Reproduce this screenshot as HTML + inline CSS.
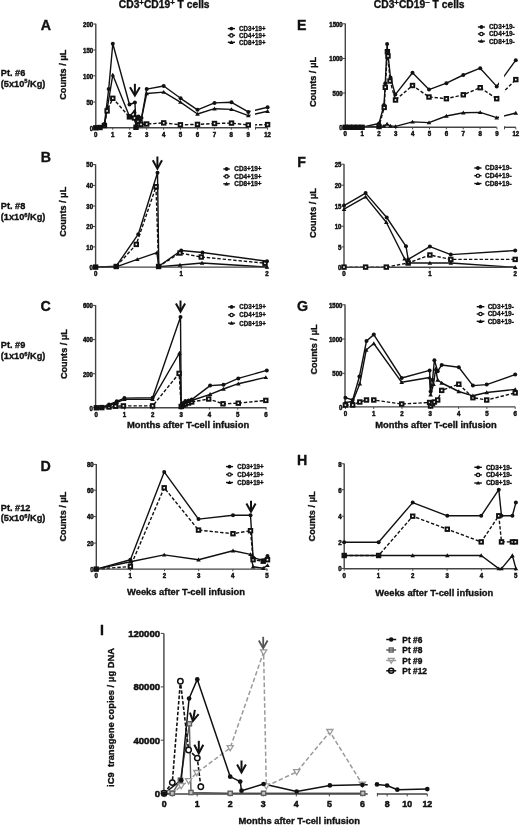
<!DOCTYPE html>
<html><head><meta charset="utf-8"><style>
html,body{margin:0;padding:0;background:#fff;overflow:hidden;width:520px;height:825px;}
svg{display:block;font-family:"Liberation Sans", sans-serif;filter:grayscale(1) blur(0.35px);}
text{stroke:#111;stroke-width:0.35px;}
.tk{stroke-width:0.5px;}
</style></head><body>
<svg width="520" height="825" viewBox="0 0 520 825" font-family='"Liberation Sans", sans-serif'>
<rect width="520" height="825" fill="#fff"/>
<text x="118.8" y="8.0" font-size="10" font-weight="bold" fill="#111" textLength="90.8" lengthAdjust="spacingAndGlyphs">CD3<tspan font-size="7.6" dy="-2.9">+</tspan><tspan dy="2.9">CD19</tspan><tspan font-size="7.6" dy="-2.9">+</tspan><tspan dy="2.9"> T cells</tspan></text>
<text x="373.8" y="8.0" font-size="10" font-weight="bold" fill="#111" textLength="90.8" lengthAdjust="spacingAndGlyphs">CD3<tspan font-size="7.6" dy="-2.9">+</tspan><tspan dy="2.9">CD19</tspan><tspan font-size="7.6" dy="-2.9">−</tspan><tspan dy="2.9"> T cells</tspan></text>
<text x="40.8" y="30.1" font-size="14.2" font-weight="bold" text-anchor="start" fill="#111" >A</text>
<text x="40.8" y="162.0" font-size="14.2" font-weight="bold" text-anchor="start" fill="#111" >B</text>
<text x="40.4" y="311.0" font-size="14.2" font-weight="bold" text-anchor="start" fill="#111" >C</text>
<text x="40.4" y="470.7" font-size="14.2" font-weight="bold" text-anchor="start" fill="#111" >D</text>
<text x="297.0" y="29.7" font-size="14.2" font-weight="bold" text-anchor="start" fill="#111" >E</text>
<text x="297.2" y="167.0" font-size="14.2" font-weight="bold" text-anchor="start" fill="#111" >F</text>
<text x="297.0" y="311.3" font-size="14.2" font-weight="bold" text-anchor="start" fill="#111" >G</text>
<text x="297.0" y="465.2" font-size="14.2" font-weight="bold" text-anchor="start" fill="#111" >H</text>
<text x="100.1" y="635.1" font-size="14.2" font-weight="bold" text-anchor="start" fill="#111" >I</text>
<text x="0.8" y="75.9" font-size="9.2" font-weight="bold" text-anchor="start" fill="#111" >Pt. #6</text>
<text x="0.8" y="86.7" font-size="9.2" font-weight="bold" fill="#111">(5x10<tspan font-size="5.8" dy="-3.3">5</tspan><tspan dy="3.3">/Kg)</tspan></text>
<text x="0.8" y="209.2" font-size="9.2" font-weight="bold" text-anchor="start" fill="#111" >Pt. #8</text>
<text x="0.8" y="220.0" font-size="9.2" font-weight="bold" fill="#111">(1x10<tspan font-size="5.8" dy="-3.3">6</tspan><tspan dy="3.3">/Kg)</tspan></text>
<text x="0.8" y="348.3" font-size="9.2" font-weight="bold" text-anchor="start" fill="#111" >Pt. #9</text>
<text x="0.8" y="359.1" font-size="9.2" font-weight="bold" fill="#111">(1x10<tspan font-size="5.8" dy="-3.3">6</tspan><tspan dy="3.3">/Kg)</tspan></text>
<text x="0.8" y="510.6" font-size="9.2" font-weight="bold" text-anchor="start" fill="#111" >Pt. #12</text>
<text x="0.8" y="521.4" font-size="9.2" font-weight="bold" fill="#111">(5x10<tspan font-size="5.8" dy="-3.3">6</tspan><tspan dy="3.3">/Kg)</tspan></text>
<text x="0" y="0" font-size="9.8" font-weight="bold" text-anchor="middle" fill="#111" textLength="50" lengthAdjust="spacingAndGlyphs" transform="translate(65.8 74.7) rotate(-90)">Counts / μL</text>
<text x="0" y="0" font-size="9.8" font-weight="bold" text-anchor="middle" fill="#111" textLength="50" lengthAdjust="spacingAndGlyphs" transform="translate(65.9 211.8) rotate(-90)">Counts / μL</text>
<text x="0" y="0" font-size="9.8" font-weight="bold" text-anchor="middle" fill="#111" textLength="50" lengthAdjust="spacingAndGlyphs" transform="translate(66.6 354.1) rotate(-90)">Counts / μL</text>
<text x="0" y="0" font-size="9.8" font-weight="bold" text-anchor="middle" fill="#111" textLength="50" lengthAdjust="spacingAndGlyphs" transform="translate(65.8 516.6) rotate(-90)">Counts / μL</text>
<text x="0" y="0" font-size="9.8" font-weight="bold" text-anchor="middle" fill="#111" textLength="50" lengthAdjust="spacingAndGlyphs" transform="translate(316.0 82.0) rotate(-90)">Counts / μL</text>
<text x="0" y="0" font-size="9.8" font-weight="bold" text-anchor="middle" fill="#111" textLength="50" lengthAdjust="spacingAndGlyphs" transform="translate(316.3 213.1) rotate(-90)">Counts / μL</text>
<text x="0" y="0" font-size="9.8" font-weight="bold" text-anchor="middle" fill="#111" textLength="50" lengthAdjust="spacingAndGlyphs" transform="translate(316.5 349.5) rotate(-90)">Counts / μL</text>
<text x="0" y="0" font-size="9.8" font-weight="bold" text-anchor="middle" fill="#111" textLength="50" lengthAdjust="spacingAndGlyphs" transform="translate(315.2 516.4) rotate(-90)">Counts / μL</text>
<text x="127.0" y="428.4" font-size="9.4" font-weight="bold" text-anchor="start" fill="#111" textLength="122.2" lengthAdjust="spacingAndGlyphs" >Months after T-cell infusion</text>
<text x="375.3" y="428.4" font-size="9.4" font-weight="bold" text-anchor="start" fill="#111" textLength="121.5" lengthAdjust="spacingAndGlyphs" >Months after T-cell infusion</text>
<text x="127.0" y="595.3" font-size="9.4" font-weight="bold" text-anchor="start" fill="#111" textLength="118" lengthAdjust="spacingAndGlyphs" >Weeks after T-cell infusion</text>
<text x="375.3" y="595.7" font-size="9.4" font-weight="bold" text-anchor="start" fill="#111" textLength="118" lengthAdjust="spacingAndGlyphs" >Weeks after T-cell infusion</text>
<text x="238.5" y="823.9" font-size="9.4" font-weight="bold" text-anchor="start" fill="#111" textLength="121.5" lengthAdjust="spacingAndGlyphs" >Months after T-cell infusion</text>
<line x1="95.8" y1="23.7" x2="95.8" y2="128.2" stroke="#444" stroke-width="1.4"/>
<line x1="93.2" y1="24.0" x2="95.8" y2="24.0" stroke="#444" stroke-width="1.0"/>
<text x="93.2" y="26.8" font-size="6.8" font-weight="bold" text-anchor="end" fill="#111" textLength="10.1" lengthAdjust="spacingAndGlyphs" class="tk">200</text>
<line x1="93.2" y1="50.0" x2="95.8" y2="50.0" stroke="#444" stroke-width="1.0"/>
<text x="93.2" y="52.8" font-size="6.8" font-weight="bold" text-anchor="end" fill="#111" textLength="10.1" lengthAdjust="spacingAndGlyphs" class="tk">150</text>
<line x1="93.2" y1="75.8" x2="95.8" y2="75.8" stroke="#444" stroke-width="1.0"/>
<text x="93.2" y="78.6" font-size="6.8" font-weight="bold" text-anchor="end" fill="#111" textLength="10.1" lengthAdjust="spacingAndGlyphs" class="tk">100</text>
<line x1="93.2" y1="102.0" x2="95.8" y2="102.0" stroke="#444" stroke-width="1.0"/>
<text x="93.2" y="104.8" font-size="6.8" font-weight="bold" text-anchor="end" fill="#111" textLength="6.7" lengthAdjust="spacingAndGlyphs" class="tk">50</text>
<line x1="93.2" y1="127.7" x2="95.8" y2="127.7" stroke="#444" stroke-width="1.0"/>
<text x="93.2" y="130.5" font-size="6.8" font-weight="bold" text-anchor="end" fill="#111" textLength="3.4" lengthAdjust="spacingAndGlyphs" class="tk">0</text>
<polyline points="95.8,127.8 100.0,127.2 104.4,124.0 108.7,89.1 112.8,43.8 129.5,104.5 134.9,102.5 136.2,126.5 138.5,116.5 141.5,118.0 146.7,89.1 163.7,86.0 180.6,98.3 197.5,109.8 214.5,102.9 231.5,102.3 248.3,111.9 267.6,107.3" fill="none" stroke="#111" stroke-width="1.4" stroke-linejoin="round"/>
<polyline points="95.8,127.8 100.0,127.5 104.4,125.0 107.6,106.5 112.8,74.9 129.4,116.3 134.3,111.3 136.0,127.0 138.0,119.0 141.2,120.0 146.7,93.5 163.7,92.1 180.4,102.1 197.5,114.0 214.5,108.7 231.5,109.4 248.3,115.6 267.6,111.2" fill="none" stroke="#111" stroke-width="1.4" stroke-linejoin="round"/>
<polyline points="95.8,127.8 100.0,127.5 104.4,125.5 107.1,110.9 112.8,98.3 129.4,116.9 134.5,118.0 136.0,127.3 138.0,121.0 141.0,124.4 146.7,124.0 163.7,122.9 180.4,124.8 197.5,124.4 214.5,123.5 231.5,123.1 248.3,125.0 267.6,124.6" fill="none" stroke="#111" stroke-width="1.4" stroke-linejoin="round" stroke-dasharray="3.4,1.9"/>
<rect x="250.6" y="95" width="4.400000000000006" height="36" fill="#fff"/>
<line x1="95.8" y1="127.7" x2="248.3" y2="127.7" stroke="#444" stroke-width="1.4"/>
<line x1="255.1" y1="127.7" x2="267.6" y2="127.7" stroke="#444" stroke-width="1.4"/>
<line x1="255.5" y1="126.7" x2="255.5" y2="129.7" stroke="#444" stroke-width="1.0"/>
<line x1="95.8" y1="127.7" x2="95.8" y2="129.7" stroke="#444" stroke-width="1.0"/>
<text x="95.8" y="136.5" font-size="6.6" font-weight="bold" text-anchor="middle" fill="#111" textLength="3.4" lengthAdjust="spacingAndGlyphs" class="tk">0</text>
<line x1="112.74" y1="127.7" x2="112.74" y2="129.7" stroke="#444" stroke-width="1.0"/>
<text x="112.7" y="136.5" font-size="6.6" font-weight="bold" text-anchor="middle" fill="#111" textLength="3.4" lengthAdjust="spacingAndGlyphs" class="tk">1</text>
<line x1="129.68" y1="127.7" x2="129.68" y2="129.7" stroke="#444" stroke-width="1.0"/>
<text x="129.7" y="136.5" font-size="6.6" font-weight="bold" text-anchor="middle" fill="#111" textLength="3.4" lengthAdjust="spacingAndGlyphs" class="tk">2</text>
<line x1="146.62" y1="127.7" x2="146.62" y2="129.7" stroke="#444" stroke-width="1.0"/>
<text x="146.6" y="136.5" font-size="6.6" font-weight="bold" text-anchor="middle" fill="#111" textLength="3.4" lengthAdjust="spacingAndGlyphs" class="tk">3</text>
<line x1="163.56" y1="127.7" x2="163.56" y2="129.7" stroke="#444" stroke-width="1.0"/>
<text x="163.6" y="136.5" font-size="6.6" font-weight="bold" text-anchor="middle" fill="#111" textLength="3.4" lengthAdjust="spacingAndGlyphs" class="tk">4</text>
<line x1="180.5" y1="127.7" x2="180.5" y2="129.7" stroke="#444" stroke-width="1.0"/>
<text x="180.5" y="136.5" font-size="6.6" font-weight="bold" text-anchor="middle" fill="#111" textLength="3.4" lengthAdjust="spacingAndGlyphs" class="tk">5</text>
<line x1="197.44" y1="127.7" x2="197.44" y2="129.7" stroke="#444" stroke-width="1.0"/>
<text x="197.4" y="136.5" font-size="6.6" font-weight="bold" text-anchor="middle" fill="#111" textLength="3.4" lengthAdjust="spacingAndGlyphs" class="tk">6</text>
<line x1="214.38" y1="127.7" x2="214.38" y2="129.7" stroke="#444" stroke-width="1.0"/>
<text x="214.4" y="136.5" font-size="6.6" font-weight="bold" text-anchor="middle" fill="#111" textLength="3.4" lengthAdjust="spacingAndGlyphs" class="tk">7</text>
<line x1="231.32" y1="127.7" x2="231.32" y2="129.7" stroke="#444" stroke-width="1.0"/>
<text x="231.3" y="136.5" font-size="6.6" font-weight="bold" text-anchor="middle" fill="#111" textLength="3.4" lengthAdjust="spacingAndGlyphs" class="tk">8</text>
<line x1="248.26" y1="127.7" x2="248.26" y2="129.7" stroke="#444" stroke-width="1.0"/>
<text x="248.3" y="136.5" font-size="6.6" font-weight="bold" text-anchor="middle" fill="#111" textLength="3.4" lengthAdjust="spacingAndGlyphs" class="tk">9</text>
<line x1="267.6" y1="127.7" x2="267.6" y2="129.7" stroke="#444" stroke-width="1.0"/>
<text x="267.6" y="136.5" font-size="6.6" font-weight="bold" text-anchor="middle" fill="#111" textLength="6.7" lengthAdjust="spacingAndGlyphs" class="tk">12</text>
<rect x="94.05" y="126.05" width="3.50" height="3.50" fill="#fff" stroke="#111" stroke-width="1.9"/>
<rect x="98.25" y="125.75" width="3.50" height="3.50" fill="#fff" stroke="#111" stroke-width="1.9"/>
<rect x="102.65" y="123.75" width="3.50" height="3.50" fill="#fff" stroke="#111" stroke-width="1.9"/>
<rect x="105.35" y="109.15" width="3.50" height="3.50" fill="#fff" stroke="#111" stroke-width="1.9"/>
<rect x="111.05" y="96.55" width="3.50" height="3.50" fill="#fff" stroke="#111" stroke-width="1.9"/>
<rect x="127.65" y="115.15" width="3.50" height="3.50" fill="#fff" stroke="#111" stroke-width="1.9"/>
<rect x="132.75" y="116.25" width="3.50" height="3.50" fill="#fff" stroke="#111" stroke-width="1.9"/>
<rect x="134.25" y="125.55" width="3.50" height="3.50" fill="#fff" stroke="#111" stroke-width="1.9"/>
<rect x="136.25" y="119.25" width="3.50" height="3.50" fill="#fff" stroke="#111" stroke-width="1.9"/>
<rect x="139.25" y="122.65" width="3.50" height="3.50" fill="#fff" stroke="#111" stroke-width="1.9"/>
<rect x="144.95" y="122.25" width="3.50" height="3.50" fill="#fff" stroke="#111" stroke-width="1.9"/>
<rect x="161.95" y="121.15" width="3.50" height="3.50" fill="#fff" stroke="#111" stroke-width="1.9"/>
<rect x="178.65" y="123.05" width="3.50" height="3.50" fill="#fff" stroke="#111" stroke-width="1.9"/>
<rect x="195.75" y="122.65" width="3.50" height="3.50" fill="#fff" stroke="#111" stroke-width="1.9"/>
<rect x="212.75" y="121.75" width="3.50" height="3.50" fill="#fff" stroke="#111" stroke-width="1.9"/>
<rect x="229.75" y="121.35" width="3.50" height="3.50" fill="#fff" stroke="#111" stroke-width="1.9"/>
<rect x="246.55" y="123.25" width="3.50" height="3.50" fill="#fff" stroke="#111" stroke-width="1.9"/>
<rect x="265.85" y="122.85" width="3.50" height="3.50" fill="#fff" stroke="#111" stroke-width="1.9"/>
<path d="M93.5,129.5 L98.1,129.5 L95.8,125.6 Z" fill="#111"/>
<path d="M97.7,129.2 L102.3,129.2 L100.0,125.3 Z" fill="#111"/>
<path d="M102.1,126.7 L106.7,126.7 L104.4,122.8 Z" fill="#111"/>
<path d="M105.3,108.2 L109.9,108.2 L107.6,104.3 Z" fill="#111"/>
<path d="M110.5,76.6 L115.1,76.6 L112.8,72.7 Z" fill="#111"/>
<path d="M127.1,118.0 L131.7,118.0 L129.4,114.1 Z" fill="#111"/>
<path d="M132.0,113.0 L136.6,113.0 L134.3,109.1 Z" fill="#111"/>
<path d="M133.7,128.7 L138.3,128.7 L136.0,124.8 Z" fill="#111"/>
<path d="M135.7,120.7 L140.3,120.7 L138.0,116.8 Z" fill="#111"/>
<path d="M138.9,121.7 L143.5,121.7 L141.2,117.8 Z" fill="#111"/>
<path d="M144.4,95.2 L149.0,95.2 L146.7,91.3 Z" fill="#111"/>
<path d="M161.4,93.8 L166.0,93.8 L163.7,89.9 Z" fill="#111"/>
<path d="M178.1,103.8 L182.7,103.8 L180.4,99.9 Z" fill="#111"/>
<path d="M195.2,115.7 L199.8,115.7 L197.5,111.8 Z" fill="#111"/>
<path d="M212.2,110.4 L216.8,110.4 L214.5,106.5 Z" fill="#111"/>
<path d="M229.2,111.1 L233.8,111.1 L231.5,107.2 Z" fill="#111"/>
<path d="M246.0,117.3 L250.6,117.3 L248.3,113.4 Z" fill="#111"/>
<path d="M265.3,112.9 L269.9,112.9 L267.6,109.0 Z" fill="#111"/>
<circle cx="95.8" cy="127.8" r="2.00" fill="#111"/>
<circle cx="100.0" cy="127.2" r="2.00" fill="#111"/>
<circle cx="104.4" cy="124.0" r="2.00" fill="#111"/>
<circle cx="108.7" cy="89.1" r="2.00" fill="#111"/>
<circle cx="112.8" cy="43.8" r="2.00" fill="#111"/>
<circle cx="129.5" cy="104.5" r="2.00" fill="#111"/>
<circle cx="134.9" cy="102.5" r="2.00" fill="#111"/>
<circle cx="136.2" cy="126.5" r="2.00" fill="#111"/>
<circle cx="138.5" cy="116.5" r="2.00" fill="#111"/>
<circle cx="141.5" cy="118.0" r="2.00" fill="#111"/>
<circle cx="146.7" cy="89.1" r="2.00" fill="#111"/>
<circle cx="163.7" cy="86.0" r="2.00" fill="#111"/>
<circle cx="180.6" cy="98.3" r="2.00" fill="#111"/>
<circle cx="197.5" cy="109.8" r="2.00" fill="#111"/>
<circle cx="214.5" cy="102.9" r="2.00" fill="#111"/>
<circle cx="231.5" cy="102.3" r="2.00" fill="#111"/>
<circle cx="248.3" cy="111.9" r="2.00" fill="#111"/>
<circle cx="267.6" cy="107.3" r="2.00" fill="#111"/>
<line x1="134.9" y1="83.8" x2="134.90" y2="94.90" stroke="#111" stroke-width="2.0"/>
<polyline points="130.00,87.30 134.90,95.50 139.80,87.30" fill="none" stroke="#111" stroke-width="2.0" stroke-linejoin="miter" stroke-miterlimit="10"/>
<line x1="227.8" y1="28.6" x2="235.0" y2="28.6" stroke="#111" stroke-width="1.4"/>
<circle cx="231.4" cy="28.6" r="1.90" fill="#111"/>
<text x="239.1" y="31.0" font-size="6.8" font-weight="bold" text-anchor="start" fill="#111" textLength="26.4" lengthAdjust="spacingAndGlyphs" >CD3+19+</text>
<line x1="227.8" y1="35.4" x2="235.0" y2="35.4" stroke="#111" stroke-width="1.4"/>
<circle cx="231.4" cy="35.4" r="1.66" fill="#fff" stroke="#111" stroke-width="1.3"/>
<text x="239.1" y="37.8" font-size="6.8" font-weight="bold" text-anchor="start" fill="#111" textLength="26.4" lengthAdjust="spacingAndGlyphs" >CD4+19+</text>
<line x1="227.8" y1="42.3" x2="235.0" y2="42.3" stroke="#111" stroke-width="1.4"/>
<path d="M229.2,43.9 L233.6,43.9 L231.4,40.2 Z" fill="#111"/>
<text x="239.1" y="44.7" font-size="6.8" font-weight="bold" text-anchor="start" fill="#111" textLength="26.4" lengthAdjust="spacingAndGlyphs" >CD8+19+</text>
<line x1="95.6" y1="164.29999999999998" x2="95.6" y2="267.6" stroke="#444" stroke-width="1.4"/>
<line x1="93.0" y1="164.6" x2="95.6" y2="164.6" stroke="#444" stroke-width="1.0"/>
<text x="93.0" y="167.4" font-size="6.8" font-weight="bold" text-anchor="end" fill="#111" textLength="6.7" lengthAdjust="spacingAndGlyphs" class="tk">50</text>
<line x1="93.0" y1="185.4" x2="95.6" y2="185.4" stroke="#444" stroke-width="1.0"/>
<text x="93.0" y="188.2" font-size="6.8" font-weight="bold" text-anchor="end" fill="#111" textLength="6.7" lengthAdjust="spacingAndGlyphs" class="tk">40</text>
<line x1="93.0" y1="206.0" x2="95.6" y2="206.0" stroke="#444" stroke-width="1.0"/>
<text x="93.0" y="208.8" font-size="6.8" font-weight="bold" text-anchor="end" fill="#111" textLength="6.7" lengthAdjust="spacingAndGlyphs" class="tk">30</text>
<line x1="93.0" y1="226.5" x2="95.6" y2="226.5" stroke="#444" stroke-width="1.0"/>
<text x="93.0" y="229.3" font-size="6.8" font-weight="bold" text-anchor="end" fill="#111" textLength="6.7" lengthAdjust="spacingAndGlyphs" class="tk">20</text>
<line x1="93.0" y1="246.9" x2="95.6" y2="246.9" stroke="#444" stroke-width="1.0"/>
<text x="93.0" y="249.7" font-size="6.8" font-weight="bold" text-anchor="end" fill="#111" textLength="6.7" lengthAdjust="spacingAndGlyphs" class="tk">10</text>
<line x1="93.0" y1="267.1" x2="95.6" y2="267.1" stroke="#444" stroke-width="1.0"/>
<text x="93.0" y="269.9" font-size="6.8" font-weight="bold" text-anchor="end" fill="#111" textLength="3.4" lengthAdjust="spacingAndGlyphs" class="tk">0</text>
<polyline points="95.6,267.1 116.2,266.2 138.3,234.2 157.5,172.7 158.8,266.2 181.2,250.5 202.5,252.5 267.0,261.2" fill="none" stroke="#111" stroke-width="1.4" stroke-linejoin="round"/>
<polyline points="95.6,267.1 116.2,266.5 136.3,244.4 156.0,186.7 158.6,266.5 180.0,253.0 201.2,257.0 265.0,263.2" fill="none" stroke="#111" stroke-width="1.4" stroke-linejoin="round" stroke-dasharray="3.4,1.9"/>
<polyline points="95.6,267.1 116.2,266.8 137.3,259.4 156.9,252.7 158.8,266.8 180.0,265.0 202.0,263.0 267.0,267.0" fill="none" stroke="#111" stroke-width="1.4" stroke-linejoin="round"/>
<line x1="95.6" y1="267.1" x2="267" y2="267.1" stroke="#444" stroke-width="1.4"/>
<line x1="95.6" y1="267.1" x2="95.6" y2="269.1" stroke="#444" stroke-width="1.0"/>
<text x="95.6" y="275.9" font-size="6.6" font-weight="bold" text-anchor="middle" fill="#111" textLength="3.4" lengthAdjust="spacingAndGlyphs" class="tk">0</text>
<line x1="181.25" y1="267.1" x2="181.25" y2="269.1" stroke="#444" stroke-width="1.0"/>
<text x="181.2" y="275.9" font-size="6.6" font-weight="bold" text-anchor="middle" fill="#111" textLength="3.4" lengthAdjust="spacingAndGlyphs" class="tk">1</text>
<line x1="267" y1="267.1" x2="267" y2="269.1" stroke="#444" stroke-width="1.0"/>
<text x="267.0" y="275.9" font-size="6.6" font-weight="bold" text-anchor="middle" fill="#111" textLength="3.4" lengthAdjust="spacingAndGlyphs" class="tk">2</text>
<rect x="93.85" y="265.35" width="3.50" height="3.50" fill="#fff" stroke="#111" stroke-width="1.9"/>
<rect x="114.45" y="264.75" width="3.50" height="3.50" fill="#fff" stroke="#111" stroke-width="1.9"/>
<rect x="134.55" y="242.65" width="3.50" height="3.50" fill="#fff" stroke="#111" stroke-width="1.9"/>
<rect x="154.25" y="184.95" width="3.50" height="3.50" fill="#fff" stroke="#111" stroke-width="1.9"/>
<rect x="156.85" y="264.75" width="3.50" height="3.50" fill="#fff" stroke="#111" stroke-width="1.9"/>
<rect x="178.25" y="251.25" width="3.50" height="3.50" fill="#fff" stroke="#111" stroke-width="1.9"/>
<rect x="199.50" y="255.25" width="3.50" height="3.50" fill="#fff" stroke="#111" stroke-width="1.9"/>
<rect x="263.25" y="261.50" width="3.50" height="3.50" fill="#fff" stroke="#111" stroke-width="1.9"/>
<path d="M93.3,268.8 L97.9,268.8 L95.6,264.9 Z" fill="#111"/>
<path d="M113.9,268.5 L118.5,268.5 L116.2,264.6 Z" fill="#111"/>
<path d="M135.0,261.1 L139.6,261.1 L137.3,257.2 Z" fill="#111"/>
<path d="M154.6,254.4 L159.2,254.4 L156.9,250.5 Z" fill="#111"/>
<path d="M156.5,268.5 L161.1,268.5 L158.8,264.6 Z" fill="#111"/>
<path d="M177.7,266.7 L182.3,266.7 L180.0,262.8 Z" fill="#111"/>
<path d="M199.7,264.7 L204.3,264.7 L202.0,260.8 Z" fill="#111"/>
<path d="M264.7,268.7 L269.3,268.7 L267.0,264.8 Z" fill="#111"/>
<circle cx="95.6" cy="267.1" r="2.00" fill="#111"/>
<circle cx="116.2" cy="266.2" r="2.00" fill="#111"/>
<circle cx="138.3" cy="234.2" r="2.00" fill="#111"/>
<circle cx="157.5" cy="172.7" r="2.00" fill="#111"/>
<circle cx="158.8" cy="266.2" r="2.00" fill="#111"/>
<circle cx="181.2" cy="250.5" r="2.00" fill="#111"/>
<circle cx="202.5" cy="252.5" r="2.00" fill="#111"/>
<circle cx="267.0" cy="261.2" r="2.00" fill="#111"/>
<line x1="157.4" y1="156.5" x2="157.40" y2="168.10" stroke="#111" stroke-width="2.0"/>
<polyline points="152.80,160.30 157.40,168.70 162.00,160.30" fill="none" stroke="#111" stroke-width="2.0" stroke-linejoin="miter" stroke-miterlimit="10"/>
<line x1="223.3" y1="169.0" x2="229.8" y2="169.0" stroke="#111" stroke-width="1.4"/>
<circle cx="226.6" cy="169.0" r="1.90" fill="#111"/>
<text x="234.3" y="171.4" font-size="6.8" font-weight="bold" text-anchor="start" fill="#111" textLength="27.3" lengthAdjust="spacingAndGlyphs" >CD3+19+</text>
<line x1="223.3" y1="176.4" x2="229.8" y2="176.4" stroke="#111" stroke-width="1.4"/>
<circle cx="226.6" cy="176.4" r="1.66" fill="#fff" stroke="#111" stroke-width="1.3"/>
<text x="234.3" y="178.8" font-size="6.8" font-weight="bold" text-anchor="start" fill="#111" textLength="27.3" lengthAdjust="spacingAndGlyphs" >CD4+19+</text>
<line x1="223.3" y1="183.8" x2="229.8" y2="183.8" stroke="#111" stroke-width="1.4"/>
<path d="M224.4,185.4 L228.7,185.4 L226.6,181.7 Z" fill="#111"/>
<text x="234.3" y="186.2" font-size="6.8" font-weight="bold" text-anchor="start" fill="#111" textLength="27.3" lengthAdjust="spacingAndGlyphs" >CD8+19+</text>
<line x1="95.6" y1="305.09999999999997" x2="95.6" y2="408.2" stroke="#444" stroke-width="1.4"/>
<line x1="93.0" y1="305.4" x2="95.6" y2="305.4" stroke="#444" stroke-width="1.0"/>
<text x="93.0" y="308.2" font-size="6.8" font-weight="bold" text-anchor="end" fill="#111" textLength="10.1" lengthAdjust="spacingAndGlyphs" class="tk">600</text>
<line x1="93.0" y1="339.6" x2="95.6" y2="339.6" stroke="#444" stroke-width="1.0"/>
<text x="93.0" y="342.4" font-size="6.8" font-weight="bold" text-anchor="end" fill="#111" textLength="10.1" lengthAdjust="spacingAndGlyphs" class="tk">400</text>
<line x1="93.0" y1="373.7" x2="95.6" y2="373.7" stroke="#444" stroke-width="1.0"/>
<text x="93.0" y="376.5" font-size="6.8" font-weight="bold" text-anchor="end" fill="#111" textLength="10.1" lengthAdjust="spacingAndGlyphs" class="tk">200</text>
<line x1="93.0" y1="407.7" x2="95.6" y2="407.7" stroke="#444" stroke-width="1.0"/>
<text x="93.0" y="410.5" font-size="6.8" font-weight="bold" text-anchor="end" fill="#111" textLength="3.4" lengthAdjust="spacingAndGlyphs" class="tk">0</text>
<polyline points="96.4,407.8 101.8,407.5 109.0,404.6 116.8,401.3 124.4,398.1 152.6,397.8 180.5,316.9 181.2,405.3 183.5,403.0 185.4,401.0 188.6,400.4 191.7,399.6 210.1,385.6 223.5,384.8 238.3,378.4 266.8,370.4" fill="none" stroke="#111" stroke-width="1.4" stroke-linejoin="round"/>
<polyline points="96.4,407.8 101.8,407.6 109.0,405.5 116.8,402.5 124.4,399.4 152.6,399.4 179.5,353.0 181.2,406.0 183.5,404.0 185.4,402.5 188.6,401.5 191.7,400.5 210.1,394.3 223.5,389.0 238.3,383.7 265.8,377.4" fill="none" stroke="#111" stroke-width="1.4" stroke-linejoin="round"/>
<polyline points="96.4,407.8 101.8,407.6 109.0,407.0 115.5,406.2 123.4,405.9 152.6,405.9 179.1,373.4 181.2,406.5 183.5,405.0 185.4,404.0 188.6,403.0 191.7,402.0 208.7,399.0 223.0,403.8 238.3,403.2 265.8,400.4" fill="none" stroke="#111" stroke-width="1.4" stroke-linejoin="round" stroke-dasharray="3.4,1.9"/>
<line x1="95.6" y1="407.7" x2="266.5" y2="407.7" stroke="#444" stroke-width="1.4"/>
<line x1="96.2" y1="407.7" x2="96.2" y2="409.7" stroke="#444" stroke-width="1.0"/>
<text x="96.2" y="416.5" font-size="6.6" font-weight="bold" text-anchor="middle" fill="#111" textLength="3.4" lengthAdjust="spacingAndGlyphs" class="tk">0</text>
<line x1="124.5" y1="407.7" x2="124.5" y2="409.7" stroke="#444" stroke-width="1.0"/>
<text x="124.5" y="416.5" font-size="6.6" font-weight="bold" text-anchor="middle" fill="#111" textLength="3.4" lengthAdjust="spacingAndGlyphs" class="tk">1</text>
<line x1="152.8" y1="407.7" x2="152.8" y2="409.7" stroke="#444" stroke-width="1.0"/>
<text x="152.8" y="416.5" font-size="6.6" font-weight="bold" text-anchor="middle" fill="#111" textLength="3.4" lengthAdjust="spacingAndGlyphs" class="tk">2</text>
<line x1="181.10000000000002" y1="407.7" x2="181.10000000000002" y2="409.7" stroke="#444" stroke-width="1.0"/>
<text x="181.1" y="416.5" font-size="6.6" font-weight="bold" text-anchor="middle" fill="#111" textLength="3.4" lengthAdjust="spacingAndGlyphs" class="tk">3</text>
<line x1="209.4" y1="407.7" x2="209.4" y2="409.7" stroke="#444" stroke-width="1.0"/>
<text x="209.4" y="416.5" font-size="6.6" font-weight="bold" text-anchor="middle" fill="#111" textLength="3.4" lengthAdjust="spacingAndGlyphs" class="tk">4</text>
<line x1="237.7" y1="407.7" x2="237.7" y2="409.7" stroke="#444" stroke-width="1.0"/>
<text x="237.7" y="416.5" font-size="6.6" font-weight="bold" text-anchor="middle" fill="#111" textLength="3.4" lengthAdjust="spacingAndGlyphs" class="tk">5</text>
<line x1="266.0" y1="407.7" x2="266.0" y2="409.7" stroke="#444" stroke-width="1.0"/>
<text x="266.0" y="416.5" font-size="6.6" font-weight="bold" text-anchor="middle" fill="#111" textLength="3.4" lengthAdjust="spacingAndGlyphs" class="tk">6</text>
<rect x="94.65" y="406.05" width="3.50" height="3.50" fill="#fff" stroke="#111" stroke-width="1.9"/>
<rect x="100.05" y="405.85" width="3.50" height="3.50" fill="#fff" stroke="#111" stroke-width="1.9"/>
<rect x="107.25" y="405.25" width="3.50" height="3.50" fill="#fff" stroke="#111" stroke-width="1.9"/>
<rect x="113.75" y="404.45" width="3.50" height="3.50" fill="#fff" stroke="#111" stroke-width="1.9"/>
<rect x="121.65" y="404.15" width="3.50" height="3.50" fill="#fff" stroke="#111" stroke-width="1.9"/>
<rect x="150.85" y="404.15" width="3.50" height="3.50" fill="#fff" stroke="#111" stroke-width="1.9"/>
<rect x="177.35" y="371.65" width="3.50" height="3.50" fill="#fff" stroke="#111" stroke-width="1.9"/>
<rect x="179.45" y="404.75" width="3.50" height="3.50" fill="#fff" stroke="#111" stroke-width="1.9"/>
<rect x="181.75" y="403.25" width="3.50" height="3.50" fill="#fff" stroke="#111" stroke-width="1.9"/>
<rect x="183.65" y="402.25" width="3.50" height="3.50" fill="#fff" stroke="#111" stroke-width="1.9"/>
<rect x="186.85" y="401.25" width="3.50" height="3.50" fill="#fff" stroke="#111" stroke-width="1.9"/>
<rect x="189.95" y="400.25" width="3.50" height="3.50" fill="#fff" stroke="#111" stroke-width="1.9"/>
<rect x="206.95" y="397.25" width="3.50" height="3.50" fill="#fff" stroke="#111" stroke-width="1.9"/>
<rect x="221.25" y="402.05" width="3.50" height="3.50" fill="#fff" stroke="#111" stroke-width="1.9"/>
<rect x="236.55" y="401.45" width="3.50" height="3.50" fill="#fff" stroke="#111" stroke-width="1.9"/>
<rect x="264.05" y="398.65" width="3.50" height="3.50" fill="#fff" stroke="#111" stroke-width="1.9"/>
<path d="M94.1,409.5 L98.7,409.5 L96.4,405.6 Z" fill="#111"/>
<path d="M99.5,409.3 L104.1,409.3 L101.8,405.4 Z" fill="#111"/>
<path d="M106.7,407.2 L111.3,407.2 L109.0,403.3 Z" fill="#111"/>
<path d="M114.5,404.2 L119.1,404.2 L116.8,400.3 Z" fill="#111"/>
<path d="M122.1,401.1 L126.7,401.1 L124.4,397.2 Z" fill="#111"/>
<path d="M150.3,401.1 L154.9,401.1 L152.6,397.2 Z" fill="#111"/>
<path d="M177.2,354.7 L181.8,354.7 L179.5,350.8 Z" fill="#111"/>
<path d="M178.9,407.7 L183.5,407.7 L181.2,403.8 Z" fill="#111"/>
<path d="M181.2,405.7 L185.8,405.7 L183.5,401.8 Z" fill="#111"/>
<path d="M183.1,404.2 L187.7,404.2 L185.4,400.3 Z" fill="#111"/>
<path d="M186.3,403.2 L190.9,403.2 L188.6,399.3 Z" fill="#111"/>
<path d="M189.4,402.2 L194.0,402.2 L191.7,398.3 Z" fill="#111"/>
<path d="M207.8,396.0 L212.4,396.0 L210.1,392.1 Z" fill="#111"/>
<path d="M221.2,390.7 L225.8,390.7 L223.5,386.8 Z" fill="#111"/>
<path d="M236.0,385.4 L240.6,385.4 L238.3,381.5 Z" fill="#111"/>
<path d="M263.5,379.1 L268.1,379.1 L265.8,375.2 Z" fill="#111"/>
<circle cx="96.4" cy="407.8" r="2.00" fill="#111"/>
<circle cx="101.8" cy="407.5" r="2.00" fill="#111"/>
<circle cx="109.0" cy="404.6" r="2.00" fill="#111"/>
<circle cx="116.8" cy="401.3" r="2.00" fill="#111"/>
<circle cx="124.4" cy="398.1" r="2.00" fill="#111"/>
<circle cx="152.6" cy="397.8" r="2.00" fill="#111"/>
<circle cx="180.5" cy="316.9" r="2.00" fill="#111"/>
<circle cx="181.2" cy="405.3" r="2.00" fill="#111"/>
<circle cx="183.5" cy="403.0" r="2.00" fill="#111"/>
<circle cx="185.4" cy="401.0" r="2.00" fill="#111"/>
<circle cx="188.6" cy="400.4" r="2.00" fill="#111"/>
<circle cx="191.7" cy="399.6" r="2.00" fill="#111"/>
<circle cx="210.1" cy="385.6" r="2.00" fill="#111"/>
<circle cx="223.5" cy="384.8" r="2.00" fill="#111"/>
<circle cx="238.3" cy="378.4" r="2.00" fill="#111"/>
<circle cx="266.8" cy="370.4" r="2.00" fill="#111"/>
<line x1="180.5" y1="300.5" x2="180.50" y2="311.00" stroke="#111" stroke-width="2.0"/>
<polyline points="175.90,303.40 180.50,311.60 185.10,303.40" fill="none" stroke="#111" stroke-width="2.0" stroke-linejoin="miter" stroke-miterlimit="10"/>
<line x1="228.1" y1="306.9" x2="235.1" y2="306.9" stroke="#111" stroke-width="1.4"/>
<circle cx="231.6" cy="306.9" r="1.90" fill="#111"/>
<text x="239.3" y="309.3" font-size="6.8" font-weight="bold" text-anchor="start" fill="#111" textLength="26.5" lengthAdjust="spacingAndGlyphs" >CD3+19+</text>
<line x1="228.1" y1="315.0" x2="235.1" y2="315.0" stroke="#111" stroke-width="1.4"/>
<circle cx="231.6" cy="315.0" r="1.66" fill="#fff" stroke="#111" stroke-width="1.3"/>
<text x="239.3" y="317.4" font-size="6.8" font-weight="bold" text-anchor="start" fill="#111" textLength="26.5" lengthAdjust="spacingAndGlyphs" >CD4+19+</text>
<line x1="228.1" y1="323.2" x2="235.1" y2="323.2" stroke="#111" stroke-width="1.4"/>
<path d="M229.4,324.8 L233.8,324.8 L231.6,321.1 Z" fill="#111"/>
<text x="239.3" y="325.6" font-size="6.8" font-weight="bold" text-anchor="start" fill="#111" textLength="26.5" lengthAdjust="spacingAndGlyphs" >CD8+19+</text>
<line x1="96.3" y1="464.09999999999997" x2="96.3" y2="569.6" stroke="#444" stroke-width="1.4"/>
<line x1="93.7" y1="464.4" x2="96.3" y2="464.4" stroke="#444" stroke-width="1.0"/>
<text x="93.7" y="467.2" font-size="6.8" font-weight="bold" text-anchor="end" fill="#111" textLength="6.7" lengthAdjust="spacingAndGlyphs" class="tk">80</text>
<line x1="93.7" y1="490.2" x2="96.3" y2="490.2" stroke="#444" stroke-width="1.0"/>
<text x="93.7" y="493.0" font-size="6.8" font-weight="bold" text-anchor="end" fill="#111" textLength="6.7" lengthAdjust="spacingAndGlyphs" class="tk">60</text>
<line x1="93.7" y1="516.6" x2="96.3" y2="516.6" stroke="#444" stroke-width="1.0"/>
<text x="93.7" y="519.4" font-size="6.8" font-weight="bold" text-anchor="end" fill="#111" textLength="6.7" lengthAdjust="spacingAndGlyphs" class="tk">40</text>
<line x1="93.7" y1="543.1" x2="96.3" y2="543.1" stroke="#444" stroke-width="1.0"/>
<text x="93.7" y="545.9" font-size="6.8" font-weight="bold" text-anchor="end" fill="#111" textLength="6.7" lengthAdjust="spacingAndGlyphs" class="tk">20</text>
<line x1="93.7" y1="569.1" x2="96.3" y2="569.1" stroke="#444" stroke-width="1.0"/>
<text x="93.7" y="571.9" font-size="6.8" font-weight="bold" text-anchor="end" fill="#111" textLength="3.4" lengthAdjust="spacingAndGlyphs" class="tk">0</text>
<polyline points="96.2,569.1 130.4,559.8 164.2,471.9 198.5,519.1 233.0,515.3 250.5,515.3 253.1,557.6 263.2,560.4 267.5,556.1" fill="none" stroke="#111" stroke-width="1.4" stroke-linejoin="round"/>
<polyline points="96.2,569.1 130.4,566.5 164.2,487.8 198.5,530.1 233.0,533.7 250.5,530.7 253.1,559.7 263.2,561.2 267.5,559.7" fill="none" stroke="#111" stroke-width="1.4" stroke-linejoin="round" stroke-dasharray="3.4,1.9"/>
<polyline points="96.2,569.1 130.4,561.7 164.2,554.9 198.5,559.7 233.0,550.8 250.5,554.4 253.1,566.7 263.2,568.2 267.5,565.4" fill="none" stroke="#111" stroke-width="1.4" stroke-linejoin="round"/>
<line x1="96.3" y1="569.1" x2="267.5" y2="569.1" stroke="#444" stroke-width="1.4"/>
<line x1="96.2" y1="569.1" x2="96.2" y2="571.1" stroke="#444" stroke-width="1.0"/>
<text x="96.2" y="577.9" font-size="6.6" font-weight="bold" text-anchor="middle" fill="#111" textLength="3.4" lengthAdjust="spacingAndGlyphs" class="tk">0</text>
<line x1="130.35" y1="569.1" x2="130.35" y2="571.1" stroke="#444" stroke-width="1.0"/>
<text x="130.3" y="577.9" font-size="6.6" font-weight="bold" text-anchor="middle" fill="#111" textLength="3.4" lengthAdjust="spacingAndGlyphs" class="tk">1</text>
<line x1="164.5" y1="569.1" x2="164.5" y2="571.1" stroke="#444" stroke-width="1.0"/>
<text x="164.5" y="577.9" font-size="6.6" font-weight="bold" text-anchor="middle" fill="#111" textLength="3.4" lengthAdjust="spacingAndGlyphs" class="tk">2</text>
<line x1="198.64999999999998" y1="569.1" x2="198.64999999999998" y2="571.1" stroke="#444" stroke-width="1.0"/>
<text x="198.6" y="577.9" font-size="6.6" font-weight="bold" text-anchor="middle" fill="#111" textLength="3.4" lengthAdjust="spacingAndGlyphs" class="tk">3</text>
<line x1="232.8" y1="569.1" x2="232.8" y2="571.1" stroke="#444" stroke-width="1.0"/>
<text x="232.8" y="577.9" font-size="6.6" font-weight="bold" text-anchor="middle" fill="#111" textLength="3.4" lengthAdjust="spacingAndGlyphs" class="tk">4</text>
<line x1="266.95" y1="569.1" x2="266.95" y2="571.1" stroke="#444" stroke-width="1.0"/>
<text x="266.9" y="577.9" font-size="6.6" font-weight="bold" text-anchor="middle" fill="#111" textLength="3.4" lengthAdjust="spacingAndGlyphs" class="tk">5</text>
<rect x="94.45" y="567.35" width="3.50" height="3.50" fill="#fff" stroke="#111" stroke-width="1.9"/>
<rect x="128.65" y="564.75" width="3.50" height="3.50" fill="#fff" stroke="#111" stroke-width="1.9"/>
<rect x="162.45" y="486.05" width="3.50" height="3.50" fill="#fff" stroke="#111" stroke-width="1.9"/>
<rect x="196.75" y="528.35" width="3.50" height="3.50" fill="#fff" stroke="#111" stroke-width="1.9"/>
<rect x="231.25" y="531.95" width="3.50" height="3.50" fill="#fff" stroke="#111" stroke-width="1.9"/>
<rect x="248.75" y="528.95" width="3.50" height="3.50" fill="#fff" stroke="#111" stroke-width="1.9"/>
<rect x="251.35" y="557.95" width="3.50" height="3.50" fill="#fff" stroke="#111" stroke-width="1.9"/>
<rect x="261.45" y="559.45" width="3.50" height="3.50" fill="#fff" stroke="#111" stroke-width="1.9"/>
<rect x="265.75" y="557.95" width="3.50" height="3.50" fill="#fff" stroke="#111" stroke-width="1.9"/>
<path d="M93.9,570.8 L98.5,570.8 L96.2,566.9 Z" fill="#111"/>
<path d="M128.1,563.4 L132.7,563.4 L130.4,559.5 Z" fill="#111"/>
<path d="M161.9,556.6 L166.5,556.6 L164.2,552.7 Z" fill="#111"/>
<path d="M196.2,561.4 L200.8,561.4 L198.5,557.5 Z" fill="#111"/>
<path d="M230.7,552.5 L235.3,552.5 L233.0,548.6 Z" fill="#111"/>
<path d="M248.2,556.1 L252.8,556.1 L250.5,552.2 Z" fill="#111"/>
<path d="M250.8,568.4 L255.4,568.4 L253.1,564.5 Z" fill="#111"/>
<path d="M260.9,569.9 L265.5,569.9 L263.2,566.0 Z" fill="#111"/>
<path d="M265.2,567.1 L269.8,567.1 L267.5,563.2 Z" fill="#111"/>
<circle cx="96.2" cy="569.1" r="2.00" fill="#111"/>
<circle cx="130.4" cy="559.8" r="2.00" fill="#111"/>
<circle cx="164.2" cy="471.9" r="2.00" fill="#111"/>
<circle cx="198.5" cy="519.1" r="2.00" fill="#111"/>
<circle cx="233.0" cy="515.3" r="2.00" fill="#111"/>
<circle cx="250.5" cy="515.3" r="2.00" fill="#111"/>
<circle cx="253.1" cy="557.6" r="2.00" fill="#111"/>
<circle cx="263.2" cy="560.4" r="2.00" fill="#111"/>
<circle cx="267.5" cy="556.1" r="2.00" fill="#111"/>
<line x1="251.0" y1="500.8" x2="251.00" y2="511.20" stroke="#111" stroke-width="2.0"/>
<polyline points="246.40,503.60 251.00,511.80 255.60,503.60" fill="none" stroke="#111" stroke-width="2.0" stroke-linejoin="miter" stroke-miterlimit="10"/>
<line x1="226.0" y1="466.6" x2="233.0" y2="466.6" stroke="#111" stroke-width="1.4"/>
<circle cx="229.5" cy="466.6" r="1.90" fill="#111"/>
<text x="237.2" y="469.0" font-size="6.8" font-weight="bold" text-anchor="start" fill="#111" textLength="26.5" lengthAdjust="spacingAndGlyphs" >CD3+19+</text>
<line x1="226.0" y1="474.5" x2="233.0" y2="474.5" stroke="#111" stroke-width="1.4"/>
<circle cx="229.5" cy="474.5" r="1.66" fill="#fff" stroke="#111" stroke-width="1.3"/>
<text x="237.2" y="476.9" font-size="6.8" font-weight="bold" text-anchor="start" fill="#111" textLength="26.5" lengthAdjust="spacingAndGlyphs" >CD4+19+</text>
<line x1="226.0" y1="482.5" x2="233.0" y2="482.5" stroke="#111" stroke-width="1.4"/>
<path d="M227.3,484.1 L231.7,484.1 L229.5,480.4 Z" fill="#111"/>
<text x="237.2" y="484.9" font-size="6.8" font-weight="bold" text-anchor="start" fill="#111" textLength="26.5" lengthAdjust="spacingAndGlyphs" >CD8+19+</text>
<line x1="345.3" y1="23.5" x2="345.3" y2="127.8" stroke="#444" stroke-width="1.4"/>
<line x1="342.7" y1="23.8" x2="345.3" y2="23.8" stroke="#444" stroke-width="1.0"/>
<text x="342.7" y="26.6" font-size="6.8" font-weight="bold" text-anchor="end" fill="#111" textLength="13.4" lengthAdjust="spacingAndGlyphs" class="tk">1500</text>
<line x1="342.7" y1="58.5" x2="345.3" y2="58.5" stroke="#444" stroke-width="1.0"/>
<text x="342.7" y="61.3" font-size="6.8" font-weight="bold" text-anchor="end" fill="#111" textLength="13.4" lengthAdjust="spacingAndGlyphs" class="tk">1000</text>
<line x1="342.7" y1="93.0" x2="345.3" y2="93.0" stroke="#444" stroke-width="1.0"/>
<text x="342.7" y="95.8" font-size="6.8" font-weight="bold" text-anchor="end" fill="#111" textLength="10.1" lengthAdjust="spacingAndGlyphs" class="tk">500</text>
<line x1="342.7" y1="127.3" x2="345.3" y2="127.3" stroke="#444" stroke-width="1.0"/>
<text x="342.7" y="130.1" font-size="6.8" font-weight="bold" text-anchor="end" fill="#111" textLength="3.4" lengthAdjust="spacingAndGlyphs" class="tk">0</text>
<polyline points="345.2,127.3 349.4,127.3 353.6,127.3 357.8,127.3 362.1,127.3 379.0,123.5 384.0,105.1 385.3,83.3 387.1,44.0 387.6,51.0 390.5,77.5 395.3,94.6 412.5,72.8 429.0,89.6 446.4,83.2 463.3,75.0 480.2,68.2 496.7,86.4 515.8,60.2" fill="none" stroke="#111" stroke-width="1.4" stroke-linejoin="round"/>
<polyline points="345.2,127.3 349.4,127.3 353.6,127.3 357.8,127.3 362.1,127.3 379.0,126.5 384.2,107.4 385.3,87.3 387.4,51.7 388.0,56.0 390.0,81.0 395.5,100.0 412.5,85.5 429.0,97.0 446.4,98.7 463.3,94.8 480.2,87.7 496.7,98.7 515.8,79.6" fill="none" stroke="#111" stroke-width="1.4" stroke-linejoin="round" stroke-dasharray="3.4,1.9"/>
<polyline points="345.2,127.3 349.4,127.3 353.6,127.3 357.8,127.3 362.1,127.3 379.0,126.4 384.0,126.0 387.1,124.0 390.5,126.0 395.5,126.4 412.5,121.9 429.0,122.6 446.4,116.0 463.3,112.8 480.2,112.4 496.7,117.7 515.8,113.0" fill="none" stroke="#111" stroke-width="1.4" stroke-linejoin="round"/>
<rect x="499.0" y="50" width="5.100000000000023" height="80" fill="#fff"/>
<line x1="345.3" y1="127.3" x2="496.7" y2="127.3" stroke="#444" stroke-width="1.4"/>
<line x1="504.1" y1="127.3" x2="515.8" y2="127.3" stroke="#444" stroke-width="1.4"/>
<line x1="504.5" y1="126.3" x2="504.5" y2="129.3" stroke="#444" stroke-width="1.0"/>
<line x1="345.2" y1="127.3" x2="345.2" y2="129.3" stroke="#444" stroke-width="1.0"/>
<text x="345.2" y="136.1" font-size="6.6" font-weight="bold" text-anchor="middle" fill="#111" textLength="3.4" lengthAdjust="spacingAndGlyphs" class="tk">0</text>
<line x1="362.06" y1="127.3" x2="362.06" y2="129.3" stroke="#444" stroke-width="1.0"/>
<text x="362.1" y="136.1" font-size="6.6" font-weight="bold" text-anchor="middle" fill="#111" textLength="3.4" lengthAdjust="spacingAndGlyphs" class="tk">1</text>
<line x1="378.91999999999996" y1="127.3" x2="378.91999999999996" y2="129.3" stroke="#444" stroke-width="1.0"/>
<text x="378.9" y="136.1" font-size="6.6" font-weight="bold" text-anchor="middle" fill="#111" textLength="3.4" lengthAdjust="spacingAndGlyphs" class="tk">2</text>
<line x1="395.78" y1="127.3" x2="395.78" y2="129.3" stroke="#444" stroke-width="1.0"/>
<text x="395.8" y="136.1" font-size="6.6" font-weight="bold" text-anchor="middle" fill="#111" textLength="3.4" lengthAdjust="spacingAndGlyphs" class="tk">3</text>
<line x1="412.64" y1="127.3" x2="412.64" y2="129.3" stroke="#444" stroke-width="1.0"/>
<text x="412.6" y="136.1" font-size="6.6" font-weight="bold" text-anchor="middle" fill="#111" textLength="3.4" lengthAdjust="spacingAndGlyphs" class="tk">4</text>
<line x1="429.5" y1="127.3" x2="429.5" y2="129.3" stroke="#444" stroke-width="1.0"/>
<text x="429.5" y="136.1" font-size="6.6" font-weight="bold" text-anchor="middle" fill="#111" textLength="3.4" lengthAdjust="spacingAndGlyphs" class="tk">5</text>
<line x1="446.36" y1="127.3" x2="446.36" y2="129.3" stroke="#444" stroke-width="1.0"/>
<text x="446.4" y="136.1" font-size="6.6" font-weight="bold" text-anchor="middle" fill="#111" textLength="3.4" lengthAdjust="spacingAndGlyphs" class="tk">6</text>
<line x1="463.21999999999997" y1="127.3" x2="463.21999999999997" y2="129.3" stroke="#444" stroke-width="1.0"/>
<text x="463.2" y="136.1" font-size="6.6" font-weight="bold" text-anchor="middle" fill="#111" textLength="3.4" lengthAdjust="spacingAndGlyphs" class="tk">7</text>
<line x1="480.08" y1="127.3" x2="480.08" y2="129.3" stroke="#444" stroke-width="1.0"/>
<text x="480.1" y="136.1" font-size="6.6" font-weight="bold" text-anchor="middle" fill="#111" textLength="3.4" lengthAdjust="spacingAndGlyphs" class="tk">8</text>
<line x1="496.94" y1="127.3" x2="496.94" y2="129.3" stroke="#444" stroke-width="1.0"/>
<text x="496.9" y="136.1" font-size="6.6" font-weight="bold" text-anchor="middle" fill="#111" textLength="3.4" lengthAdjust="spacingAndGlyphs" class="tk">9</text>
<line x1="515.8" y1="127.3" x2="515.8" y2="129.3" stroke="#444" stroke-width="1.0"/>
<text x="515.8" y="136.1" font-size="6.6" font-weight="bold" text-anchor="middle" fill="#111" textLength="6.7" lengthAdjust="spacingAndGlyphs" class="tk">12</text>
<rect x="343.45" y="125.55" width="3.50" height="3.50" fill="#fff" stroke="#111" stroke-width="1.9"/>
<rect x="347.65" y="125.55" width="3.50" height="3.50" fill="#fff" stroke="#111" stroke-width="1.9"/>
<rect x="351.85" y="125.55" width="3.50" height="3.50" fill="#fff" stroke="#111" stroke-width="1.9"/>
<rect x="356.05" y="125.55" width="3.50" height="3.50" fill="#fff" stroke="#111" stroke-width="1.9"/>
<rect x="360.35" y="125.55" width="3.50" height="3.50" fill="#fff" stroke="#111" stroke-width="1.9"/>
<rect x="377.25" y="124.75" width="3.50" height="3.50" fill="#fff" stroke="#111" stroke-width="1.9"/>
<rect x="382.45" y="105.65" width="3.50" height="3.50" fill="#fff" stroke="#111" stroke-width="1.9"/>
<rect x="383.55" y="85.55" width="3.50" height="3.50" fill="#fff" stroke="#111" stroke-width="1.9"/>
<rect x="385.65" y="49.95" width="3.50" height="3.50" fill="#fff" stroke="#111" stroke-width="1.9"/>
<rect x="386.25" y="54.25" width="3.50" height="3.50" fill="#fff" stroke="#111" stroke-width="1.9"/>
<rect x="388.25" y="79.25" width="3.50" height="3.50" fill="#fff" stroke="#111" stroke-width="1.9"/>
<rect x="393.75" y="98.25" width="3.50" height="3.50" fill="#fff" stroke="#111" stroke-width="1.9"/>
<rect x="410.75" y="83.75" width="3.50" height="3.50" fill="#fff" stroke="#111" stroke-width="1.9"/>
<rect x="427.25" y="95.25" width="3.50" height="3.50" fill="#fff" stroke="#111" stroke-width="1.9"/>
<rect x="444.65" y="96.95" width="3.50" height="3.50" fill="#fff" stroke="#111" stroke-width="1.9"/>
<rect x="461.55" y="93.05" width="3.50" height="3.50" fill="#fff" stroke="#111" stroke-width="1.9"/>
<rect x="478.45" y="85.95" width="3.50" height="3.50" fill="#fff" stroke="#111" stroke-width="1.9"/>
<rect x="494.95" y="96.95" width="3.50" height="3.50" fill="#fff" stroke="#111" stroke-width="1.9"/>
<rect x="514.05" y="77.85" width="3.50" height="3.50" fill="#fff" stroke="#111" stroke-width="1.9"/>
<path d="M342.9,129.0 L347.5,129.0 L345.2,125.1 Z" fill="#111"/>
<path d="M347.1,129.0 L351.7,129.0 L349.4,125.1 Z" fill="#111"/>
<path d="M351.3,129.0 L355.9,129.0 L353.6,125.1 Z" fill="#111"/>
<path d="M355.5,129.0 L360.1,129.0 L357.8,125.1 Z" fill="#111"/>
<path d="M359.8,129.0 L364.4,129.0 L362.1,125.1 Z" fill="#111"/>
<path d="M376.7,128.1 L381.3,128.1 L379.0,124.2 Z" fill="#111"/>
<path d="M381.7,127.7 L386.3,127.7 L384.0,123.8 Z" fill="#111"/>
<path d="M384.8,125.7 L389.4,125.7 L387.1,121.8 Z" fill="#111"/>
<path d="M388.2,127.7 L392.8,127.7 L390.5,123.8 Z" fill="#111"/>
<path d="M393.2,128.1 L397.8,128.1 L395.5,124.2 Z" fill="#111"/>
<path d="M410.2,123.6 L414.8,123.6 L412.5,119.7 Z" fill="#111"/>
<path d="M426.7,124.3 L431.3,124.3 L429.0,120.4 Z" fill="#111"/>
<path d="M444.1,117.7 L448.7,117.7 L446.4,113.8 Z" fill="#111"/>
<path d="M461.0,114.5 L465.6,114.5 L463.3,110.6 Z" fill="#111"/>
<path d="M477.9,114.1 L482.5,114.1 L480.2,110.2 Z" fill="#111"/>
<path d="M494.4,119.4 L499.0,119.4 L496.7,115.5 Z" fill="#111"/>
<path d="M513.5,114.7 L518.1,114.7 L515.8,110.8 Z" fill="#111"/>
<circle cx="345.2" cy="127.3" r="2.00" fill="#111"/>
<circle cx="349.4" cy="127.3" r="2.00" fill="#111"/>
<circle cx="353.6" cy="127.3" r="2.00" fill="#111"/>
<circle cx="357.8" cy="127.3" r="2.00" fill="#111"/>
<circle cx="362.1" cy="127.3" r="2.00" fill="#111"/>
<circle cx="379.0" cy="123.5" r="2.00" fill="#111"/>
<circle cx="384.0" cy="105.1" r="2.00" fill="#111"/>
<circle cx="385.3" cy="83.3" r="2.00" fill="#111"/>
<circle cx="387.1" cy="44.0" r="2.00" fill="#111"/>
<circle cx="387.6" cy="51.0" r="2.00" fill="#111"/>
<circle cx="390.5" cy="77.5" r="2.00" fill="#111"/>
<circle cx="395.3" cy="94.6" r="2.00" fill="#111"/>
<circle cx="412.5" cy="72.8" r="2.00" fill="#111"/>
<circle cx="429.0" cy="89.6" r="2.00" fill="#111"/>
<circle cx="446.4" cy="83.2" r="2.00" fill="#111"/>
<circle cx="463.3" cy="75.0" r="2.00" fill="#111"/>
<circle cx="480.2" cy="68.2" r="2.00" fill="#111"/>
<circle cx="496.7" cy="86.4" r="2.00" fill="#111"/>
<circle cx="515.8" cy="60.2" r="2.00" fill="#111"/>
<line x1="477.9" y1="27.0" x2="484.9" y2="27.0" stroke="#111" stroke-width="1.4"/>
<circle cx="481.4" cy="27.0" r="1.90" fill="#111"/>
<text x="489.0" y="29.4" font-size="6.8" font-weight="bold" text-anchor="start" fill="#111" textLength="25.7" lengthAdjust="spacingAndGlyphs" >CD3+19-</text>
<line x1="477.9" y1="34.0" x2="484.9" y2="34.0" stroke="#111" stroke-width="1.4"/>
<circle cx="481.4" cy="34.0" r="1.66" fill="#fff" stroke="#111" stroke-width="1.3"/>
<text x="489.0" y="36.4" font-size="6.8" font-weight="bold" text-anchor="start" fill="#111" textLength="25.7" lengthAdjust="spacingAndGlyphs" >CD4+19-</text>
<line x1="477.9" y1="41.2" x2="484.9" y2="41.2" stroke="#111" stroke-width="1.4"/>
<path d="M479.2,42.8 L483.6,42.8 L481.4,39.1 Z" fill="#111"/>
<text x="489.0" y="43.6" font-size="6.8" font-weight="bold" text-anchor="start" fill="#111" textLength="25.7" lengthAdjust="spacingAndGlyphs" >CD8+19-</text>
<line x1="344.0" y1="163.89999999999998" x2="344.0" y2="267.6" stroke="#444" stroke-width="1.4"/>
<line x1="341.4" y1="164.2" x2="344.0" y2="164.2" stroke="#444" stroke-width="1.0"/>
<text x="341.4" y="167.0" font-size="6.8" font-weight="bold" text-anchor="end" fill="#111" textLength="6.7" lengthAdjust="spacingAndGlyphs" class="tk">25</text>
<line x1="341.4" y1="185.2" x2="344.0" y2="185.2" stroke="#444" stroke-width="1.0"/>
<text x="341.4" y="188.0" font-size="6.8" font-weight="bold" text-anchor="end" fill="#111" textLength="6.7" lengthAdjust="spacingAndGlyphs" class="tk">20</text>
<line x1="341.4" y1="206.0" x2="344.0" y2="206.0" stroke="#444" stroke-width="1.0"/>
<text x="341.4" y="208.8" font-size="6.8" font-weight="bold" text-anchor="end" fill="#111" textLength="6.7" lengthAdjust="spacingAndGlyphs" class="tk">15</text>
<line x1="341.4" y1="226.2" x2="344.0" y2="226.2" stroke="#444" stroke-width="1.0"/>
<text x="341.4" y="229.0" font-size="6.8" font-weight="bold" text-anchor="end" fill="#111" textLength="6.7" lengthAdjust="spacingAndGlyphs" class="tk">10</text>
<line x1="341.4" y1="246.9" x2="344.0" y2="246.9" stroke="#444" stroke-width="1.0"/>
<text x="341.4" y="249.7" font-size="6.8" font-weight="bold" text-anchor="end" fill="#111" textLength="3.4" lengthAdjust="spacingAndGlyphs" class="tk">5</text>
<line x1="341.4" y1="267.1" x2="344.0" y2="267.1" stroke="#444" stroke-width="1.0"/>
<text x="341.4" y="269.9" font-size="6.8" font-weight="bold" text-anchor="end" fill="#111" textLength="3.4" lengthAdjust="spacingAndGlyphs" class="tk">0</text>
<polyline points="344.0,205.6 365.6,193.1 386.7,217.5 406.0,246.3 408.2,259.4 429.9,246.6 450.8,254.6 515.2,250.5" fill="none" stroke="#111" stroke-width="1.4" stroke-linejoin="round"/>
<polyline points="344.0,267.1 365.6,267.1 386.3,267.1 408.2,263.0 429.9,255.0 450.8,259.4 515.2,259.4" fill="none" stroke="#111" stroke-width="1.4" stroke-linejoin="round" stroke-dasharray="3.4,1.9"/>
<polyline points="344.0,209.2 365.6,196.9 386.3,222.3 404.6,258.8 407.5,263.0 429.9,263.0 450.8,263.0 515.2,267.3" fill="none" stroke="#111" stroke-width="1.4" stroke-linejoin="round"/>
<line x1="344.0" y1="267.2" x2="515.2" y2="267.2" stroke="#444" stroke-width="1.4"/>
<line x1="344.0" y1="267.2" x2="344.0" y2="269.2" stroke="#444" stroke-width="1.0"/>
<text x="344.0" y="276.0" font-size="6.6" font-weight="bold" text-anchor="middle" fill="#111" textLength="3.4" lengthAdjust="spacingAndGlyphs" class="tk">0</text>
<line x1="429.9" y1="267.2" x2="429.9" y2="269.2" stroke="#444" stroke-width="1.0"/>
<text x="429.9" y="276.0" font-size="6.6" font-weight="bold" text-anchor="middle" fill="#111" textLength="3.4" lengthAdjust="spacingAndGlyphs" class="tk">1</text>
<line x1="515.2" y1="267.2" x2="515.2" y2="269.2" stroke="#444" stroke-width="1.0"/>
<text x="515.2" y="276.0" font-size="6.6" font-weight="bold" text-anchor="middle" fill="#111" textLength="3.4" lengthAdjust="spacingAndGlyphs" class="tk">2</text>
<rect x="342.25" y="265.35" width="3.50" height="3.50" fill="#fff" stroke="#111" stroke-width="1.9"/>
<rect x="363.85" y="265.35" width="3.50" height="3.50" fill="#fff" stroke="#111" stroke-width="1.9"/>
<rect x="384.55" y="265.35" width="3.50" height="3.50" fill="#fff" stroke="#111" stroke-width="1.9"/>
<rect x="406.45" y="261.25" width="3.50" height="3.50" fill="#fff" stroke="#111" stroke-width="1.9"/>
<rect x="428.15" y="253.25" width="3.50" height="3.50" fill="#fff" stroke="#111" stroke-width="1.9"/>
<rect x="449.05" y="257.65" width="3.50" height="3.50" fill="#fff" stroke="#111" stroke-width="1.9"/>
<rect x="513.45" y="257.65" width="3.50" height="3.50" fill="#fff" stroke="#111" stroke-width="1.9"/>
<path d="M341.7,210.9 L346.3,210.9 L344.0,207.0 Z" fill="#111"/>
<path d="M363.3,198.6 L367.9,198.6 L365.6,194.7 Z" fill="#111"/>
<path d="M384.0,224.0 L388.6,224.0 L386.3,220.1 Z" fill="#111"/>
<path d="M402.3,260.5 L406.9,260.5 L404.6,256.6 Z" fill="#111"/>
<path d="M405.2,264.7 L409.8,264.7 L407.5,260.8 Z" fill="#111"/>
<path d="M427.6,264.7 L432.2,264.7 L429.9,260.8 Z" fill="#111"/>
<path d="M448.5,264.7 L453.1,264.7 L450.8,260.8 Z" fill="#111"/>
<path d="M512.9,269.0 L517.5,269.0 L515.2,265.1 Z" fill="#111"/>
<circle cx="344.0" cy="205.6" r="2.00" fill="#111"/>
<circle cx="365.6" cy="193.1" r="2.00" fill="#111"/>
<circle cx="386.7" cy="217.5" r="2.00" fill="#111"/>
<circle cx="406.0" cy="246.3" r="2.00" fill="#111"/>
<circle cx="408.2" cy="259.4" r="2.00" fill="#111"/>
<circle cx="429.9" cy="246.6" r="2.00" fill="#111"/>
<circle cx="450.8" cy="254.6" r="2.00" fill="#111"/>
<circle cx="515.2" cy="250.5" r="2.00" fill="#111"/>
<line x1="474.3" y1="168.0" x2="481.5" y2="168.0" stroke="#111" stroke-width="1.4"/>
<circle cx="477.9" cy="168.0" r="1.90" fill="#111"/>
<text x="485.1" y="170.4" font-size="6.8" font-weight="bold" text-anchor="start" fill="#111" textLength="26.5" lengthAdjust="spacingAndGlyphs" >CD3+19-</text>
<line x1="474.3" y1="175.7" x2="481.5" y2="175.7" stroke="#111" stroke-width="1.4"/>
<circle cx="477.9" cy="175.7" r="1.66" fill="#fff" stroke="#111" stroke-width="1.3"/>
<text x="485.1" y="178.1" font-size="6.8" font-weight="bold" text-anchor="start" fill="#111" textLength="26.5" lengthAdjust="spacingAndGlyphs" >CD4+19-</text>
<line x1="474.3" y1="183.5" x2="481.5" y2="183.5" stroke="#111" stroke-width="1.4"/>
<path d="M475.7,185.1 L480.1,185.1 L477.9,181.4 Z" fill="#111"/>
<text x="485.1" y="185.9" font-size="6.8" font-weight="bold" text-anchor="start" fill="#111" textLength="26.5" lengthAdjust="spacingAndGlyphs" >CD8+19-</text>
<line x1="345.0" y1="304.5" x2="345.0" y2="407.8" stroke="#444" stroke-width="1.4"/>
<line x1="342.4" y1="304.8" x2="345.0" y2="304.8" stroke="#444" stroke-width="1.0"/>
<text x="342.4" y="307.6" font-size="6.8" font-weight="bold" text-anchor="end" fill="#111" textLength="13.4" lengthAdjust="spacingAndGlyphs" class="tk">1500</text>
<line x1="342.4" y1="339.0" x2="345.0" y2="339.0" stroke="#444" stroke-width="1.0"/>
<text x="342.4" y="341.8" font-size="6.8" font-weight="bold" text-anchor="end" fill="#111" textLength="13.4" lengthAdjust="spacingAndGlyphs" class="tk">1000</text>
<line x1="342.4" y1="373.3" x2="345.0" y2="373.3" stroke="#444" stroke-width="1.0"/>
<text x="342.4" y="376.1" font-size="6.8" font-weight="bold" text-anchor="end" fill="#111" textLength="10.1" lengthAdjust="spacingAndGlyphs" class="tk">500</text>
<line x1="342.4" y1="407.3" x2="345.0" y2="407.3" stroke="#444" stroke-width="1.0"/>
<text x="342.4" y="410.1" font-size="6.8" font-weight="bold" text-anchor="end" fill="#111" textLength="3.4" lengthAdjust="spacingAndGlyphs" class="tk">0</text>
<polyline points="345.4,397.7 352.7,400.0 359.4,376.5 366.5,341.0 373.8,334.6 401.7,378.0 429.6,370.4 430.6,391.5 432.5,380.0 434.4,360.2 437.7,371.2 441.7,365.0 458.8,367.3 472.9,385.6 486.7,384.6 515.2,374.6" fill="none" stroke="#111" stroke-width="1.4" stroke-linejoin="round"/>
<polyline points="345.4,402.5 352.7,401.5 359.8,383.8 366.2,350.0 373.8,343.5 401.7,382.3 429.6,377.5 430.6,394.8 433.5,384.2 435.6,369.0 437.7,380.0 441.7,383.0 458.8,391.5 472.9,395.8 486.7,392.5 515.2,389.4" fill="none" stroke="#111" stroke-width="1.4" stroke-linejoin="round"/>
<polyline points="345.4,405.0 352.7,405.0 359.8,402.0 366.5,400.0 373.8,400.0 401.7,404.0 429.6,402.5 430.6,406.0 432.5,403.5 434.4,402.0 437.7,400.0 441.7,390.4 458.8,384.2 472.9,397.7 486.7,400.0 515.2,392.9" fill="none" stroke="#111" stroke-width="1.4" stroke-linejoin="round" stroke-dasharray="3.4,1.9"/>
<line x1="345.0" y1="406.9" x2="515.2" y2="406.9" stroke="#444" stroke-width="1.4"/>
<line x1="345.4" y1="406.9" x2="345.4" y2="408.9" stroke="#444" stroke-width="1.0"/>
<text x="345.4" y="415.7" font-size="6.6" font-weight="bold" text-anchor="middle" fill="#111" textLength="3.4" lengthAdjust="spacingAndGlyphs" class="tk">0</text>
<line x1="373.7" y1="406.9" x2="373.7" y2="408.9" stroke="#444" stroke-width="1.0"/>
<text x="373.7" y="415.7" font-size="6.6" font-weight="bold" text-anchor="middle" fill="#111" textLength="3.4" lengthAdjust="spacingAndGlyphs" class="tk">1</text>
<line x1="402.0" y1="406.9" x2="402.0" y2="408.9" stroke="#444" stroke-width="1.0"/>
<text x="402.0" y="415.7" font-size="6.6" font-weight="bold" text-anchor="middle" fill="#111" textLength="3.4" lengthAdjust="spacingAndGlyphs" class="tk">2</text>
<line x1="430.29999999999995" y1="406.9" x2="430.29999999999995" y2="408.9" stroke="#444" stroke-width="1.0"/>
<text x="430.3" y="415.7" font-size="6.6" font-weight="bold" text-anchor="middle" fill="#111" textLength="3.4" lengthAdjust="spacingAndGlyphs" class="tk">3</text>
<line x1="458.59999999999997" y1="406.9" x2="458.59999999999997" y2="408.9" stroke="#444" stroke-width="1.0"/>
<text x="458.6" y="415.7" font-size="6.6" font-weight="bold" text-anchor="middle" fill="#111" textLength="3.4" lengthAdjust="spacingAndGlyphs" class="tk">4</text>
<line x1="486.9" y1="406.9" x2="486.9" y2="408.9" stroke="#444" stroke-width="1.0"/>
<text x="486.9" y="415.7" font-size="6.6" font-weight="bold" text-anchor="middle" fill="#111" textLength="3.4" lengthAdjust="spacingAndGlyphs" class="tk">5</text>
<line x1="515.2" y1="406.9" x2="515.2" y2="408.9" stroke="#444" stroke-width="1.0"/>
<text x="515.2" y="415.7" font-size="6.6" font-weight="bold" text-anchor="middle" fill="#111" textLength="3.4" lengthAdjust="spacingAndGlyphs" class="tk">6</text>
<rect x="343.65" y="403.25" width="3.50" height="3.50" fill="#fff" stroke="#111" stroke-width="1.9"/>
<rect x="350.95" y="403.25" width="3.50" height="3.50" fill="#fff" stroke="#111" stroke-width="1.9"/>
<rect x="358.05" y="400.25" width="3.50" height="3.50" fill="#fff" stroke="#111" stroke-width="1.9"/>
<rect x="364.75" y="398.25" width="3.50" height="3.50" fill="#fff" stroke="#111" stroke-width="1.9"/>
<rect x="372.05" y="398.25" width="3.50" height="3.50" fill="#fff" stroke="#111" stroke-width="1.9"/>
<rect x="399.95" y="402.25" width="3.50" height="3.50" fill="#fff" stroke="#111" stroke-width="1.9"/>
<rect x="427.85" y="400.75" width="3.50" height="3.50" fill="#fff" stroke="#111" stroke-width="1.9"/>
<rect x="428.85" y="404.25" width="3.50" height="3.50" fill="#fff" stroke="#111" stroke-width="1.9"/>
<rect x="430.75" y="401.75" width="3.50" height="3.50" fill="#fff" stroke="#111" stroke-width="1.9"/>
<rect x="432.65" y="400.25" width="3.50" height="3.50" fill="#fff" stroke="#111" stroke-width="1.9"/>
<rect x="435.95" y="398.25" width="3.50" height="3.50" fill="#fff" stroke="#111" stroke-width="1.9"/>
<rect x="439.95" y="388.65" width="3.50" height="3.50" fill="#fff" stroke="#111" stroke-width="1.9"/>
<rect x="457.05" y="382.45" width="3.50" height="3.50" fill="#fff" stroke="#111" stroke-width="1.9"/>
<rect x="471.15" y="395.95" width="3.50" height="3.50" fill="#fff" stroke="#111" stroke-width="1.9"/>
<rect x="484.95" y="398.25" width="3.50" height="3.50" fill="#fff" stroke="#111" stroke-width="1.9"/>
<rect x="513.45" y="391.15" width="3.50" height="3.50" fill="#fff" stroke="#111" stroke-width="1.9"/>
<path d="M343.1,404.2 L347.7,404.2 L345.4,400.3 Z" fill="#111"/>
<path d="M350.4,403.2 L355.0,403.2 L352.7,399.3 Z" fill="#111"/>
<path d="M357.5,385.5 L362.1,385.5 L359.8,381.6 Z" fill="#111"/>
<path d="M363.9,351.7 L368.5,351.7 L366.2,347.8 Z" fill="#111"/>
<path d="M371.5,345.2 L376.1,345.2 L373.8,341.3 Z" fill="#111"/>
<path d="M399.4,384.0 L404.0,384.0 L401.7,380.1 Z" fill="#111"/>
<path d="M427.3,379.2 L431.9,379.2 L429.6,375.3 Z" fill="#111"/>
<path d="M428.3,396.5 L432.9,396.5 L430.6,392.6 Z" fill="#111"/>
<path d="M431.2,385.9 L435.8,385.9 L433.5,382.0 Z" fill="#111"/>
<path d="M433.3,370.7 L437.9,370.7 L435.6,366.8 Z" fill="#111"/>
<path d="M435.4,381.7 L440.0,381.7 L437.7,377.8 Z" fill="#111"/>
<path d="M439.4,384.7 L444.0,384.7 L441.7,380.8 Z" fill="#111"/>
<path d="M456.5,393.2 L461.1,393.2 L458.8,389.3 Z" fill="#111"/>
<path d="M470.6,397.5 L475.2,397.5 L472.9,393.6 Z" fill="#111"/>
<path d="M484.4,394.2 L489.0,394.2 L486.7,390.3 Z" fill="#111"/>
<path d="M512.9,391.1 L517.5,391.1 L515.2,387.2 Z" fill="#111"/>
<circle cx="345.4" cy="397.7" r="2.00" fill="#111"/>
<circle cx="352.7" cy="400.0" r="2.00" fill="#111"/>
<circle cx="359.4" cy="376.5" r="2.00" fill="#111"/>
<circle cx="366.5" cy="341.0" r="2.00" fill="#111"/>
<circle cx="373.8" cy="334.6" r="2.00" fill="#111"/>
<circle cx="401.7" cy="378.0" r="2.00" fill="#111"/>
<circle cx="429.6" cy="370.4" r="2.00" fill="#111"/>
<circle cx="430.6" cy="391.5" r="2.00" fill="#111"/>
<circle cx="432.5" cy="380.0" r="2.00" fill="#111"/>
<circle cx="434.4" cy="360.2" r="2.00" fill="#111"/>
<circle cx="437.7" cy="371.2" r="2.00" fill="#111"/>
<circle cx="441.7" cy="365.0" r="2.00" fill="#111"/>
<circle cx="458.8" cy="367.3" r="2.00" fill="#111"/>
<circle cx="472.9" cy="385.6" r="2.00" fill="#111"/>
<circle cx="486.7" cy="384.6" r="2.00" fill="#111"/>
<circle cx="515.2" cy="374.6" r="2.00" fill="#111"/>
<line x1="476.7" y1="306.7" x2="484.4" y2="306.7" stroke="#111" stroke-width="1.4"/>
<circle cx="480.5" cy="306.7" r="1.90" fill="#111"/>
<text x="487.7" y="309.1" font-size="6.8" font-weight="bold" text-anchor="start" fill="#111" textLength="26.1" lengthAdjust="spacingAndGlyphs" >CD3+19-</text>
<line x1="476.7" y1="314.0" x2="484.4" y2="314.0" stroke="#111" stroke-width="1.4"/>
<circle cx="480.5" cy="314.0" r="1.66" fill="#fff" stroke="#111" stroke-width="1.3"/>
<text x="487.7" y="316.4" font-size="6.8" font-weight="bold" text-anchor="start" fill="#111" textLength="26.1" lengthAdjust="spacingAndGlyphs" >CD4+19-</text>
<line x1="476.7" y1="321.3" x2="484.4" y2="321.3" stroke="#111" stroke-width="1.4"/>
<path d="M478.4,322.9 L482.7,322.9 L480.5,319.2 Z" fill="#111"/>
<text x="487.7" y="323.7" font-size="6.8" font-weight="bold" text-anchor="start" fill="#111" textLength="26.1" lengthAdjust="spacingAndGlyphs" >CD8+19-</text>
<line x1="344.2" y1="463.5" x2="344.2" y2="569.1" stroke="#444" stroke-width="1.4"/>
<line x1="341.59999999999997" y1="463.8" x2="344.2" y2="463.8" stroke="#444" stroke-width="1.0"/>
<text x="341.6" y="466.6" font-size="6.8" font-weight="bold" text-anchor="end" fill="#111" textLength="3.4" lengthAdjust="spacingAndGlyphs" class="tk">8</text>
<line x1="341.59999999999997" y1="489.7" x2="344.2" y2="489.7" stroke="#444" stroke-width="1.0"/>
<text x="341.6" y="492.5" font-size="6.8" font-weight="bold" text-anchor="end" fill="#111" textLength="3.4" lengthAdjust="spacingAndGlyphs" class="tk">6</text>
<line x1="341.59999999999997" y1="516.2" x2="344.2" y2="516.2" stroke="#444" stroke-width="1.0"/>
<text x="341.6" y="519.0" font-size="6.8" font-weight="bold" text-anchor="end" fill="#111" textLength="3.4" lengthAdjust="spacingAndGlyphs" class="tk">4</text>
<line x1="341.59999999999997" y1="542.3" x2="344.2" y2="542.3" stroke="#444" stroke-width="1.0"/>
<text x="341.6" y="545.1" font-size="6.8" font-weight="bold" text-anchor="end" fill="#111" textLength="3.4" lengthAdjust="spacingAndGlyphs" class="tk">2</text>
<line x1="341.59999999999997" y1="568.6" x2="344.2" y2="568.6" stroke="#444" stroke-width="1.0"/>
<text x="341.6" y="571.4" font-size="6.8" font-weight="bold" text-anchor="end" fill="#111" textLength="3.4" lengthAdjust="spacingAndGlyphs" class="tk">0</text>
<polyline points="344.2,542.3 378.6,542.3 412.7,502.6 447.3,515.8 481.2,515.8 498.8,489.7 501.5,515.8 512.4,515.8 515.9,502.6" fill="none" stroke="#111" stroke-width="1.4" stroke-linejoin="round"/>
<polyline points="344.2,555.5 378.6,555.5 412.7,516.2 447.3,529.2 481.2,541.9 498.8,515.8 501.5,541.9 512.4,541.9 515.4,541.9" fill="none" stroke="#111" stroke-width="1.4" stroke-linejoin="round" stroke-dasharray="3.4,1.9"/>
<polyline points="344.2,555.5 378.6,555.5 412.7,555.5 447.3,555.5 481.2,555.5 498.8,568.6 501.5,568.6 512.4,555.5 515.9,568.6" fill="none" stroke="#111" stroke-width="1.4" stroke-linejoin="round"/>
<line x1="344.2" y1="568.8" x2="515.5" y2="568.8" stroke="#444" stroke-width="1.4"/>
<line x1="344.2" y1="568.8" x2="344.2" y2="570.8" stroke="#444" stroke-width="1.0"/>
<text x="344.2" y="577.6" font-size="6.6" font-weight="bold" text-anchor="middle" fill="#111" textLength="3.4" lengthAdjust="spacingAndGlyphs" class="tk">0</text>
<line x1="378.5" y1="568.8" x2="378.5" y2="570.8" stroke="#444" stroke-width="1.0"/>
<text x="378.5" y="577.6" font-size="6.6" font-weight="bold" text-anchor="middle" fill="#111" textLength="3.4" lengthAdjust="spacingAndGlyphs" class="tk">1</text>
<line x1="412.79999999999995" y1="568.8" x2="412.79999999999995" y2="570.8" stroke="#444" stroke-width="1.0"/>
<text x="412.8" y="577.6" font-size="6.6" font-weight="bold" text-anchor="middle" fill="#111" textLength="3.4" lengthAdjust="spacingAndGlyphs" class="tk">2</text>
<line x1="447.09999999999997" y1="568.8" x2="447.09999999999997" y2="570.8" stroke="#444" stroke-width="1.0"/>
<text x="447.1" y="577.6" font-size="6.6" font-weight="bold" text-anchor="middle" fill="#111" textLength="3.4" lengthAdjust="spacingAndGlyphs" class="tk">3</text>
<line x1="481.4" y1="568.8" x2="481.4" y2="570.8" stroke="#444" stroke-width="1.0"/>
<text x="481.4" y="577.6" font-size="6.6" font-weight="bold" text-anchor="middle" fill="#111" textLength="3.4" lengthAdjust="spacingAndGlyphs" class="tk">4</text>
<line x1="515.7" y1="568.8" x2="515.7" y2="570.8" stroke="#444" stroke-width="1.0"/>
<text x="515.7" y="577.6" font-size="6.6" font-weight="bold" text-anchor="middle" fill="#111" textLength="3.4" lengthAdjust="spacingAndGlyphs" class="tk">5</text>
<rect x="342.45" y="553.75" width="3.50" height="3.50" fill="#fff" stroke="#111" stroke-width="1.9"/>
<rect x="376.85" y="553.75" width="3.50" height="3.50" fill="#fff" stroke="#111" stroke-width="1.9"/>
<rect x="410.95" y="514.45" width="3.50" height="3.50" fill="#fff" stroke="#111" stroke-width="1.9"/>
<rect x="445.55" y="527.45" width="3.50" height="3.50" fill="#fff" stroke="#111" stroke-width="1.9"/>
<rect x="479.45" y="540.15" width="3.50" height="3.50" fill="#fff" stroke="#111" stroke-width="1.9"/>
<rect x="497.05" y="514.05" width="3.50" height="3.50" fill="#fff" stroke="#111" stroke-width="1.9"/>
<rect x="499.75" y="540.15" width="3.50" height="3.50" fill="#fff" stroke="#111" stroke-width="1.9"/>
<rect x="510.65" y="540.15" width="3.50" height="3.50" fill="#fff" stroke="#111" stroke-width="1.9"/>
<rect x="513.65" y="540.15" width="3.50" height="3.50" fill="#fff" stroke="#111" stroke-width="1.9"/>
<path d="M341.9,557.2 L346.5,557.2 L344.2,553.3 Z" fill="#111"/>
<path d="M376.3,557.2 L380.9,557.2 L378.6,553.3 Z" fill="#111"/>
<path d="M410.4,557.2 L415.0,557.2 L412.7,553.3 Z" fill="#111"/>
<path d="M445.0,557.2 L449.6,557.2 L447.3,553.3 Z" fill="#111"/>
<path d="M478.9,557.2 L483.5,557.2 L481.2,553.3 Z" fill="#111"/>
<path d="M496.5,570.3 L501.1,570.3 L498.8,566.4 Z" fill="#111"/>
<path d="M499.2,570.3 L503.8,570.3 L501.5,566.4 Z" fill="#111"/>
<path d="M510.1,557.2 L514.7,557.2 L512.4,553.3 Z" fill="#111"/>
<path d="M513.6,570.3 L518.2,570.3 L515.9,566.4 Z" fill="#111"/>
<circle cx="344.2" cy="542.3" r="2.00" fill="#111"/>
<circle cx="378.6" cy="542.3" r="2.00" fill="#111"/>
<circle cx="412.7" cy="502.6" r="2.00" fill="#111"/>
<circle cx="447.3" cy="515.8" r="2.00" fill="#111"/>
<circle cx="481.2" cy="515.8" r="2.00" fill="#111"/>
<circle cx="498.8" cy="489.7" r="2.00" fill="#111"/>
<circle cx="501.5" cy="515.8" r="2.00" fill="#111"/>
<circle cx="512.4" cy="515.8" r="2.00" fill="#111"/>
<circle cx="515.9" cy="502.6" r="2.00" fill="#111"/>
<line x1="474.3" y1="467.3" x2="481.9" y2="467.3" stroke="#111" stroke-width="1.4"/>
<circle cx="478.1" cy="467.3" r="1.90" fill="#111"/>
<text x="485.9" y="469.7" font-size="6.8" font-weight="bold" text-anchor="start" fill="#111" textLength="26.1" lengthAdjust="spacingAndGlyphs" >CD3+19-</text>
<line x1="474.3" y1="474.9" x2="481.9" y2="474.9" stroke="#111" stroke-width="1.4"/>
<circle cx="478.1" cy="474.9" r="1.66" fill="#fff" stroke="#111" stroke-width="1.3"/>
<text x="485.9" y="477.3" font-size="6.8" font-weight="bold" text-anchor="start" fill="#111" textLength="26.1" lengthAdjust="spacingAndGlyphs" >CD4+19-</text>
<line x1="474.3" y1="483.0" x2="481.9" y2="483.0" stroke="#111" stroke-width="1.4"/>
<path d="M475.9,484.6 L480.3,484.6 L478.1,480.9 Z" fill="#111"/>
<text x="485.9" y="485.4" font-size="6.8" font-weight="bold" text-anchor="start" fill="#111" textLength="26.1" lengthAdjust="spacingAndGlyphs" >CD8+19-</text>
<line x1="163.9" y1="633.4000000000001" x2="163.9" y2="794.1" stroke="#444" stroke-width="1.4"/>
<line x1="160.70000000000002" y1="633.4" x2="163.9" y2="633.4" stroke="#444" stroke-width="1.0"/>
<text x="160.0" y="636.8" font-size="8.8" font-weight="bold" text-anchor="end" fill="#111" textLength="31.8" lengthAdjust="spacingAndGlyphs" class="tk">120000</text>
<line x1="160.70000000000002" y1="686.9" x2="163.9" y2="686.9" stroke="#444" stroke-width="1.0"/>
<text x="160.0" y="690.3" font-size="8.8" font-weight="bold" text-anchor="end" fill="#111" textLength="26.5" lengthAdjust="spacingAndGlyphs" class="tk">80000</text>
<line x1="160.70000000000002" y1="740.2" x2="163.9" y2="740.2" stroke="#444" stroke-width="1.0"/>
<text x="160.0" y="743.6" font-size="8.8" font-weight="bold" text-anchor="end" fill="#111" textLength="26.5" lengthAdjust="spacingAndGlyphs" class="tk">40000</text>
<line x1="160.70000000000002" y1="793.6" x2="163.9" y2="793.6" stroke="#444" stroke-width="1.0"/>
<text x="160.0" y="797.0" font-size="8.8" font-weight="bold" text-anchor="end" fill="#111" textLength="5.3" lengthAdjust="spacingAndGlyphs" class="tk">0</text>
<polyline points="164.1,793.5 172.3,793.3 181.2,785.9 188.6,781.0 196.8,772.8 230.2,747.9 263.6,652.1 266.3,786.2 296.7,771.9 329.9,731.8 362.4,784.4" fill="none" stroke="#9a9a9a" stroke-width="1.5" stroke-linejoin="round" stroke-dasharray="4.5,2.4"/>
<polyline points="164.1,793.5 172.3,793.3 180.4,780.2 189.4,723.8 191.0,792.5 230.2,793.3 263.6,793.3 362.8,793.3" fill="none" stroke="#5e5e5e" stroke-width="1.4" stroke-linejoin="round"/>
<polyline points="164.1,793.3 172.3,782.6 180.4,681.3 188.6,750.0 197.3,758.1 200.8,786.7" fill="none" stroke="#111" stroke-width="1.6" stroke-linejoin="round" stroke-dasharray="3.6,1.8"/>
<polyline points="164.1,793.5 181.2,780.2 189.1,698.5 197.3,679.4 230.2,776.7 240.2,781.6 241.5,790.7 263.6,784.0 296.7,791.5 329.9,785.4 362.4,784.8 367.7,784.8" fill="none" stroke="#111" stroke-width="1.5" stroke-linejoin="round"/>
<polyline points="377,784.4 387.1,785.5 397.3,789.7 427.3,789.1" fill="none" stroke="#111" stroke-width="1.5"/>
<line x1="163.9" y1="794.0" x2="367.7" y2="794.0" stroke="#444" stroke-width="1.4"/>
<line x1="377.0" y1="794.0" x2="427.3" y2="794.0" stroke="#444" stroke-width="1.4"/>
<line x1="377.4" y1="793.0" x2="377.4" y2="796.4" stroke="#444" stroke-width="1.0"/>
<line x1="164.1" y1="794.0" x2="164.1" y2="796.4" stroke="#444" stroke-width="1.0"/>
<text x="164.1" y="806.6" font-size="8.8" font-weight="bold" text-anchor="middle" fill="#111" textLength="4.9" lengthAdjust="spacingAndGlyphs" class="tk">0</text>
<line x1="197.14999999999998" y1="794.0" x2="197.14999999999998" y2="796.4" stroke="#444" stroke-width="1.0"/>
<text x="197.1" y="806.6" font-size="8.8" font-weight="bold" text-anchor="middle" fill="#111" textLength="4.9" lengthAdjust="spacingAndGlyphs" class="tk">1</text>
<line x1="230.2" y1="794.0" x2="230.2" y2="796.4" stroke="#444" stroke-width="1.0"/>
<text x="230.2" y="806.6" font-size="8.8" font-weight="bold" text-anchor="middle" fill="#111" textLength="4.9" lengthAdjust="spacingAndGlyphs" class="tk">2</text>
<line x1="263.25" y1="794.0" x2="263.25" y2="796.4" stroke="#444" stroke-width="1.0"/>
<text x="263.2" y="806.6" font-size="8.8" font-weight="bold" text-anchor="middle" fill="#111" textLength="4.9" lengthAdjust="spacingAndGlyphs" class="tk">3</text>
<line x1="296.29999999999995" y1="794.0" x2="296.29999999999995" y2="796.4" stroke="#444" stroke-width="1.0"/>
<text x="296.3" y="806.6" font-size="8.8" font-weight="bold" text-anchor="middle" fill="#111" textLength="4.9" lengthAdjust="spacingAndGlyphs" class="tk">4</text>
<line x1="329.35" y1="794.0" x2="329.35" y2="796.4" stroke="#444" stroke-width="1.0"/>
<text x="329.4" y="806.6" font-size="8.8" font-weight="bold" text-anchor="middle" fill="#111" textLength="4.9" lengthAdjust="spacingAndGlyphs" class="tk">5</text>
<line x1="362.4" y1="794.0" x2="362.4" y2="796.4" stroke="#444" stroke-width="1.0"/>
<text x="362.4" y="806.6" font-size="8.8" font-weight="bold" text-anchor="middle" fill="#111" textLength="4.9" lengthAdjust="spacingAndGlyphs" class="tk">6</text>
<line x1="387.1" y1="794.0" x2="387.1" y2="796.4" stroke="#444" stroke-width="1.0"/>
<text x="387.1" y="806.6" font-size="8.8" font-weight="bold" text-anchor="middle" fill="#111" textLength="4.9" lengthAdjust="spacingAndGlyphs" class="tk">8</text>
<line x1="407.2" y1="794.0" x2="407.2" y2="796.4" stroke="#444" stroke-width="1.0"/>
<text x="407.2" y="806.6" font-size="8.8" font-weight="bold" text-anchor="middle" fill="#111" textLength="9.8" lengthAdjust="spacingAndGlyphs" class="tk">10</text>
<line x1="427.3" y1="794.0" x2="427.3" y2="796.4" stroke="#444" stroke-width="1.0"/>
<text x="427.3" y="806.6" font-size="8.8" font-weight="bold" text-anchor="middle" fill="#111" textLength="9.8" lengthAdjust="spacingAndGlyphs" class="tk">12</text>
<path d="M161.0,791.2 L167.2,791.2 L164.1,796.4 Z" fill="#fff" stroke="#9a9a9a" stroke-width="1.3" stroke-linejoin="miter"/>
<path d="M169.2,791.0 L175.4,791.0 L172.3,796.2 Z" fill="#fff" stroke="#9a9a9a" stroke-width="1.3" stroke-linejoin="miter"/>
<path d="M178.1,783.6 L184.3,783.6 L181.2,788.8 Z" fill="#fff" stroke="#9a9a9a" stroke-width="1.3" stroke-linejoin="miter"/>
<path d="M185.5,778.7 L191.7,778.7 L188.6,783.9 Z" fill="#fff" stroke="#9a9a9a" stroke-width="1.3" stroke-linejoin="miter"/>
<path d="M193.7,770.5 L199.9,770.5 L196.8,775.7 Z" fill="#fff" stroke="#9a9a9a" stroke-width="1.3" stroke-linejoin="miter"/>
<path d="M227.1,745.6 L233.3,745.6 L230.2,750.8 Z" fill="#fff" stroke="#9a9a9a" stroke-width="1.3" stroke-linejoin="miter"/>
<path d="M260.5,649.8 L266.7,649.8 L263.6,655.0 Z" fill="#fff" stroke="#9a9a9a" stroke-width="1.3" stroke-linejoin="miter"/>
<path d="M263.2,783.9 L269.4,783.9 L266.3,789.1 Z" fill="#fff" stroke="#9a9a9a" stroke-width="1.3" stroke-linejoin="miter"/>
<path d="M293.6,769.6 L299.8,769.6 L296.7,774.8 Z" fill="#fff" stroke="#9a9a9a" stroke-width="1.3" stroke-linejoin="miter"/>
<path d="M326.8,729.5 L333.0,729.5 L329.9,734.7 Z" fill="#fff" stroke="#9a9a9a" stroke-width="1.3" stroke-linejoin="miter"/>
<path d="M359.3,782.1 L365.5,782.1 L362.4,787.3 Z" fill="#fff" stroke="#9a9a9a" stroke-width="1.3" stroke-linejoin="miter"/>
<rect x="162.0" y="791.4" width="4.2" height="4.2" fill="#c4c4c4" stroke="#5e5e5e" stroke-width="1.4"/>
<rect x="170.2" y="791.2" width="4.2" height="4.2" fill="#c4c4c4" stroke="#5e5e5e" stroke-width="1.4"/>
<rect x="178.3" y="778.1" width="4.2" height="4.2" fill="#c4c4c4" stroke="#5e5e5e" stroke-width="1.4"/>
<rect x="187.3" y="721.7" width="4.2" height="4.2" fill="#c4c4c4" stroke="#5e5e5e" stroke-width="1.4"/>
<rect x="188.9" y="790.4" width="4.2" height="4.2" fill="#c4c4c4" stroke="#5e5e5e" stroke-width="1.4"/>
<rect x="228.1" y="791.2" width="4.2" height="4.2" fill="#c4c4c4" stroke="#5e5e5e" stroke-width="1.4"/>
<rect x="261.5" y="791.2" width="4.2" height="4.2" fill="#c4c4c4" stroke="#5e5e5e" stroke-width="1.4"/>
<rect x="360.7" y="791.2" width="4.2" height="4.2" fill="#c4c4c4" stroke="#5e5e5e" stroke-width="1.4"/>
<circle cx="164.1" cy="793.3" r="2.70" fill="#fff" stroke="#111" stroke-width="1.5"/>
<circle cx="172.3" cy="782.6" r="2.70" fill="#fff" stroke="#111" stroke-width="1.5"/>
<circle cx="180.4" cy="681.3" r="2.70" fill="#fff" stroke="#111" stroke-width="1.5"/>
<circle cx="188.6" cy="750.0" r="2.70" fill="#fff" stroke="#111" stroke-width="1.5"/>
<circle cx="197.3" cy="758.1" r="2.70" fill="#fff" stroke="#111" stroke-width="1.5"/>
<circle cx="200.8" cy="786.7" r="2.70" fill="#fff" stroke="#111" stroke-width="1.5"/>
<circle cx="164.1" cy="793.5" r="2.35" fill="#111"/>
<circle cx="181.2" cy="780.2" r="2.35" fill="#111"/>
<circle cx="189.1" cy="698.5" r="2.35" fill="#111"/>
<circle cx="197.3" cy="679.4" r="2.35" fill="#111"/>
<circle cx="230.2" cy="776.7" r="2.35" fill="#111"/>
<circle cx="240.2" cy="781.6" r="2.35" fill="#111"/>
<circle cx="241.5" cy="790.7" r="2.35" fill="#111"/>
<circle cx="263.6" cy="784.0" r="2.35" fill="#111"/>
<circle cx="296.7" cy="791.5" r="2.35" fill="#111"/>
<circle cx="329.9" cy="785.4" r="2.35" fill="#111"/>
<circle cx="362.4" cy="784.8" r="2.35" fill="#111"/>
<circle cx="377.0" cy="784.4" r="2.35" fill="#111"/>
<circle cx="387.1" cy="785.5" r="2.35" fill="#111"/>
<circle cx="397.3" cy="789.7" r="2.35" fill="#111"/>
<circle cx="427.3" cy="789.1" r="2.35" fill="#111"/>
<line x1="194.9" y1="709.8" x2="193.00" y2="720.51" stroke="#111" stroke-width="2.0"/>
<polyline points="189.93,712.65 192.90,721.10 198.59,714.19" fill="none" stroke="#111" stroke-width="2.0" stroke-linejoin="miter" stroke-miterlimit="10"/>
<line x1="198.8" y1="740.8" x2="198.80" y2="752.70" stroke="#111" stroke-width="2.0"/>
<polyline points="194.30,744.80 198.80,753.30 203.30,744.80" fill="none" stroke="#111" stroke-width="2.0" stroke-linejoin="miter" stroke-miterlimit="10"/>
<line x1="241.5" y1="760.5" x2="241.50" y2="771.90" stroke="#111" stroke-width="2.0"/>
<polyline points="237.10,764.50 241.50,772.50 245.90,764.50" fill="none" stroke="#111" stroke-width="2.0" stroke-linejoin="miter" stroke-miterlimit="10"/>
<line x1="263.2" y1="636.8" x2="263.20" y2="647.50" stroke="#555" stroke-width="1.8"/>
<polyline points="258.80,640.50 263.20,648.10 267.60,640.50" fill="none" stroke="#555" stroke-width="1.8" stroke-linejoin="miter" stroke-miterlimit="10"/>
<line x1="386.2" y1="639.5" x2="396.2" y2="639.5" stroke="#111" stroke-width="1.5"/>
<circle cx="391.2" cy="639.5" r="2.23" fill="#111"/>
<text x="402.3" y="642.5" font-size="8.4" font-weight="bold" text-anchor="start" fill="#111" >Pt #6</text>
<line x1="386.2" y1="650.0" x2="396.2" y2="650.0" stroke="#5e5e5e" stroke-width="1.5"/>
<rect x="389.2" y="648.0" width="4.0" height="4.0" fill="none" stroke="#5e5e5e" stroke-width="1.4"/>
<text x="402.3" y="653.0" font-size="8.4" font-weight="bold" text-anchor="start" fill="#111" >Pt #8</text>
<line x1="386.2" y1="660.5" x2="396.2" y2="660.5" stroke="#9a9a9a" stroke-width="1.5"/>
<path d="M388.3,658.3 L394.1,658.3 L391.2,663.3 Z" fill="none" stroke="#9a9a9a" stroke-width="1.3" stroke-linejoin="miter"/>
<text x="402.3" y="663.5" font-size="8.4" font-weight="bold" text-anchor="start" fill="#111" >Pt #9</text>
<line x1="386.2" y1="670.8" x2="396.2" y2="670.8" stroke="#111" stroke-width="1.5"/>
<circle cx="391.2" cy="670.8" r="2.56" fill="none" stroke="#111" stroke-width="1.5"/>
<text x="402.3" y="673.8" font-size="8.4" font-weight="bold" text-anchor="start" fill="#111" >Pt #12</text>
<text x="0" y="0" font-size="9.3" font-weight="bold" text-anchor="middle" fill="#111" textLength="139" lengthAdjust="spacingAndGlyphs" transform="translate(114.3 717.4) rotate(-90)" xml:space="preserve">iC9  transgene copies / μg DNA</text>
</svg>
</body></html>
